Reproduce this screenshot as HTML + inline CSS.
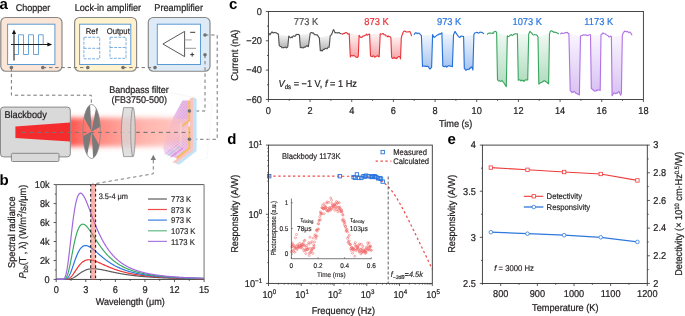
<!DOCTYPE html>
<html><head><meta charset="utf-8"><style>
html,body{margin:0;padding:0;background:#fff;overflow:hidden}
svg{display:block;will-change:transform}
text{font-family:"Liberation Sans", sans-serif;text-rendering:geometricPrecision}
</style></head><body>
<svg width="685" height="316" viewBox="0 0 685 316" font-family='"Liberation Sans", sans-serif'>
<rect width="685" height="316" fill="#fff"/>
<defs><filter id="blur4" x="-50%" y="-50%" width="200%" height="200%"><feGaussianBlur stdDeviation="4.5"/></filter><filter id="blur2" x="-50%" y="-50%" width="200%" height="200%"><feGaussianBlur stdDeviation="1.2"/></filter><filter id="blurG" x="-20%" y="-50%" width="140%" height="200%"><feGaussianBlur stdDeviation="2.6"/></filter><filter id="blur05" x="-20%" y="-20%" width="140%" height="140%"><feGaussianBlur stdDeviation="0.45"/></filter><linearGradient id="glowH" x1="0" x2="1" y1="0" y2="0"><stop offset="0" stop-color="#ff4040" stop-opacity="1"/><stop offset="0.06" stop-color="#ff4a40" stop-opacity="0.85"/><stop offset="0.15" stop-color="#ff4a40" stop-opacity="0.74"/><stop offset="0.33" stop-color="#ff5448" stop-opacity="0.62"/><stop offset="0.6" stop-color="#ff5a4a" stop-opacity="0.45"/><stop offset="0.84" stop-color="#ff5a4a" stop-opacity="0.3"/><stop offset="1" stop-color="#ff6a5a" stop-opacity="0"/></linearGradient><linearGradient id="hmaskg" x1="0" x2="1" y1="0" y2="0"><stop offset="0" stop-color="#fff" stop-opacity="0.25"/><stop offset="0.3" stop-color="#fff" stop-opacity="0.6"/><stop offset="0.7" stop-color="#fff" stop-opacity="0.95"/><stop offset="1" stop-color="#fff" stop-opacity="1"/></linearGradient><linearGradient id="hmaskv" x1="0" x2="0" y1="0" y2="1"><stop offset="0" stop-color="#000" stop-opacity="0"/><stop offset="0.3" stop-color="#000" stop-opacity="0"/><stop offset="0.5" stop-color="#000" stop-opacity="0.45"/><stop offset="0.7" stop-color="#000" stop-opacity="0"/><stop offset="1" stop-color="#000" stop-opacity="0"/></linearGradient><mask id="hmask"><rect x="160" y="95" width="30" height="70" fill="url(#hmaskg)"/><rect x="160" y="98" width="30" height="64" fill="url(#hmaskv)"/></mask><pattern id="hatch" width="2.2" height="2.2" patternUnits="userSpaceOnUse" patternTransform="rotate(45)"><rect width="2.2" height="2.2" fill="#f3c2d6"/><circle cx="1.1" cy="1.1" r="0.75" fill="#cf8ee4"/></pattern></defs>
<rect x="68" y="117.6" width="128" height="29" fill="url(#glowH)" filter="url(#blurG)"/>
<text x="-0.5" y="8.8" font-size="15" text-anchor="start" fill="#000" font-weight="bold" >a</text>
<text transform="translate(15.8,11.4) scale(1,1.08)" font-size="9" text-anchor="start" fill="#231f20" font-weight="normal"  stroke="#231f20" stroke-width="0.213">Chopper</text>
<text transform="translate(74.7,11.4) scale(1,1.08)" font-size="9.15" text-anchor="start" fill="#231f20" font-weight="normal"  stroke="#231f20" stroke-width="0.218">Lock-in amplifier</text>
<text transform="translate(154.3,11.4) scale(1,1.08)" font-size="9.15" text-anchor="start" fill="#231f20" font-weight="normal"  stroke="#231f20" stroke-width="0.218">Preamplifier</text>
<rect x="0.8" y="17.5" width="61.2" height="53.7" rx="5" fill="#FBE5D6" stroke="#858585" stroke-width="1.15"/>
<rect x="74.6" y="17.5" width="62" height="53.7" rx="5" fill="#FFF2CC" stroke="#858585" stroke-width="1.15"/>
<rect x="148.3" y="17.5" width="61.7" height="53.7" rx="5" fill="#DEEBF7" stroke="#858585" stroke-width="1.15"/>
<rect x="7.6" y="24.2" width="47.3" height="40.3" fill="#fff" stroke="#5B9BD5" stroke-width="1"/>
<rect x="79.6" y="24.2" width="51.2" height="40.3" fill="#fff" stroke="#5B9BD5" stroke-width="1"/>
<rect x="157.3" y="24.2" width="43.2" height="40.3" fill="#fff" stroke="#5B9BD5" stroke-width="1"/>
<polyline points="14.3,54.5 18.5,54.5 18.5,34.8 23.5,34.8 23.5,54.5 28.5,54.5 28.5,34.8 33.5,34.8 33.5,54.5 38.5,54.5 38.5,34.8 43.2,34.8 43.2,44" fill="none" stroke="#5B9BD5" stroke-width="0.9"/>
<line x1="14" y1="33" x2="14" y2="60.5" stroke="#222" stroke-width="1.1"/>
<polygon points="14,29.6 11.9,34 16.1,34" fill="#111"/>
<line x1="11" y1="44.5" x2="48" y2="44.5" stroke="#222" stroke-width="1.1"/>
<polygon points="52.2,44.5 47.4,42.4 47.4,46.6" fill="#111"/>
<text transform="translate(85.8,33.8) scale(1,1.08)" font-size="7.7" text-anchor="start" fill="#231f20" font-weight="normal"  stroke="#231f20" stroke-width="0.168">Ref</text>
<text transform="translate(106.7,33.8) scale(1,1.08)" font-size="7.7" text-anchor="start" fill="#231f20" font-weight="normal"  stroke="#231f20" stroke-width="0.168">Output</text>
<rect x="83.9" y="37.3" width="15.8" height="21.5" fill="none" stroke="#5B9BD5" stroke-width="0.8" stroke-dasharray="2.9 1.3"/>
<line x1="83.9" y1="48.3" x2="99.7" y2="48.3" stroke="#5B9BD5" stroke-width="0.8" stroke-dasharray="2.9 1.3"/>
<rect x="110" y="37.3" width="16" height="21" fill="none" stroke="#5B9BD5" stroke-width="0.8" stroke-dasharray="2.9 1.3"/>
<line x1="110" y1="47.5" x2="126" y2="47.5" stroke="#5B9BD5" stroke-width="0.8" stroke-dasharray="2.9 1.3"/>
<polygon points="162.9,44 184.6,31.4 184.6,56.6" fill="none" stroke="#444" stroke-width="0.9"/>
<line x1="184.6" y1="39.9" x2="191.7" y2="39.9" stroke="#aaa" stroke-width="1.1"/>
<line x1="184.6" y1="48.3" x2="196" y2="48.3" stroke="#999" stroke-width="1"/>
<line x1="190.2" y1="32.3" x2="195.2" y2="32.3" stroke="#222" stroke-width="0.9"/>
<line x1="190.2" y1="54.6" x2="194.2" y2="54.6" stroke="#222" stroke-width="0.9"/>
<line x1="192.2" y1="52.6" x2="192.2" y2="56.6" stroke="#222" stroke-width="0.9"/>
<polyline points="42.8,67.6 87.8,67.6" fill="none" stroke="#767676" stroke-width="1" stroke-dasharray="3.4 2.8"/>
<polyline points="123,67.6 155,67.6" fill="none" stroke="#767676" stroke-width="1" stroke-dasharray="3.4 2.8"/>
<polyline points="11.4,67.6 11.4,95.2 91.3,95.2 91.3,105" fill="none" stroke="#767676" stroke-width="1" stroke-dasharray="3.4 2.8"/>
<polyline points="205,35 217.2,35 217.2,139.3 189.4,139.3" fill="none" stroke="#767676" stroke-width="1" stroke-dasharray="3.4 2.8"/>
<polyline points="205,54.8 205,111 189.4,111" fill="none" stroke="#767676" stroke-width="1" stroke-dasharray="3.4 2.8"/>
<rect x="0.5" y="107.1" width="69.8" height="49.8" rx="3" fill="#D9D9D9" stroke="#7f7f7f" stroke-width="0.9"/>
<rect x="11.4" y="153.3" width="47.6" height="8.2" rx="1.2" fill="#D9D9D9" stroke="#7f7f7f" stroke-width="0.9"/>
<text transform="translate(4.4,118.3) scale(1,1.08)" font-size="9.2" text-anchor="start" fill="#231f20" font-weight="normal"  stroke="#231f20" stroke-width="0.22">Blackbody</text>
<polygon points="15.4,126.6 70,122.6 70,141.6 15.4,138" fill="#f42c2e"/>
<polygon points="91.6,131.5 100.27,126.81 100.1,124.51 99.87,122.27 99.58,120.09 99.22,118 98.81,116.01 98.34,114.14 97.82,112.41 97.26,110.82 96.65,109.38 96,108.12" fill="#7a7a7a"/>
<polygon points="91.6,131.5 90.07,104.91 89.32,105.42 88.59,106.13 87.88,107.03 87.2,108.12 86.55,109.38 85.94,110.82 85.38,112.41 84.86,114.14 84.39,116.01 83.98,118" fill="#7a7a7a"/>
<polygon points="91.6,131.5 82.93,136.19 83.1,138.49 83.33,140.73 83.62,142.91 83.98,145 84.39,146.99 84.86,148.86 85.38,150.59 85.94,152.18 86.55,153.62 87.2,154.88" fill="#7a7a7a"/>
<polygon points="91.6,131.5 93.13,158.09 93.88,157.58 94.61,156.87 95.32,155.97 96,154.88 96.65,153.62 97.26,152.18 97.82,150.59 98.34,148.86 98.81,146.99 99.22,145" fill="#7a7a7a"/>
<ellipse cx="91.6" cy="131.5" rx="8.8" ry="27.0" fill="none" stroke="#888" stroke-width="0.8"/>
<line x1="22" y1="132.4" x2="190" y2="132.4" stroke="#777" stroke-width="1" stroke-dasharray="3.8 3.8"/>
<path d="M123.6,107.6 L133,107.6 L133,156.6 L123.6,156.6 Q119,132.1 123.6,107.6 Z" fill="#d9d6d6" fill-opacity="0.78" stroke="#8a8a8a" stroke-width="0.8"/>
<ellipse cx="133" cy="132.1" rx="2.2" ry="24.5" fill="#dedada" fill-opacity="0.8" stroke="#8a8a8a" stroke-width="0.8"/>
<text transform="translate(138.9,92.9) scale(1,1.08)" font-size="9" text-anchor="middle" fill="#231f20" font-weight="normal"  stroke="#231f20" stroke-width="0.213">Bandpass filter</text>
<text transform="translate(139.3,103.4) scale(1,1.08)" font-size="9" text-anchor="middle" fill="#231f20" font-weight="normal"  stroke="#231f20" stroke-width="0.213">(FB3750-500)</text>
<polyline points="170.5,93 195,97.5" fill="none" stroke="#f0f0f0" stroke-width="0.6"/>
<polyline points="199,100 212,103 207,158 199,160" fill="none" stroke="#f3f3f3" stroke-width="0.6"/>
<polygon points="193.2,97.4 196.6,98.8 196.6,151 179.5,164.4 175.5,163.8 193.2,150" fill="#c2e3f6"/>
<polygon points="189.8,98.3 193.4,97.4 193.4,150.2 176,163.2 172.4,162.2 189.8,149" fill="#f8c4c4"/>
<g mask="url(#hmask)" filter="url(#blur05)"><polygon points="182.5,100.6 188.5,100.6 188.5,148 176.5,158 164.5,154 163,147.5 168,131 173.5,116.5" fill="url(#hatch)" opacity="0.85"/><polygon points="182.5,100.6 188.5,100.6 188.5,119 172.8,119" fill="#cf8fe6" opacity="0.25"/><polygon points="163.5,146 176.5,152 176.5,158 164.5,154" fill="#c987e8" opacity="0.4"/></g>
<rect x="150" y="119" width="38" height="22" fill="#ffb8b0" opacity="0.4" filter="url(#blur2)"/>
<polyline points="167.5,155.8 180,146.4" fill="none" stroke="#78d2cc" stroke-width="0.9" opacity="0.75" filter="url(#blur05)"/>
<polyline points="170.5,157.2 183,148" fill="none" stroke="#d77ae6" stroke-width="1.3" opacity="0.7" filter="url(#blur05)"/>
<polyline points="165.5,153.8 177.5,144.8" fill="none" stroke="#c98ae8" stroke-width="0.8" opacity="0.5" filter="url(#blur05)"/>
<line x1="180.8" y1="123" x2="180.8" y2="146" stroke="#f8ecd8" stroke-width="0.8" opacity="0.6"/>
<polyline points="189.2,100.5 189.2,120.5 182.5,126" fill="none" stroke="#f3b85a" stroke-width="2" opacity="0.9"/>
<polyline points="189.2,126.5 189.2,148.3 176.6,158.4" fill="none" stroke="#f3b85a" stroke-width="2" opacity="0.95"/>
<clipPath id="beamclip"><rect x="137" y="120" width="60" height="25"/></clipPath>
<line x1="22" y1="132.4" x2="190" y2="132.4" stroke="#777" stroke-width="1" stroke-dasharray="3.8 3.8" clip-path="url(#beamclip)"/>
<circle cx="11.4" cy="67.6" r="1.8" fill="#707070"/>
<circle cx="42.8" cy="67.6" r="1.8" fill="#707070"/>
<circle cx="87.8" cy="67.6" r="1.8" fill="#707070"/>
<circle cx="123" cy="67.6" r="1.8" fill="#707070"/>
<circle cx="155" cy="67.6" r="1.8" fill="#707070"/>
<circle cx="205" cy="35" r="1.8" fill="#707070"/>
<circle cx="205" cy="54.8" r="1.8" fill="#707070"/>
<circle cx="189.4" cy="111" r="1.8" fill="#707070"/>
<circle cx="189.4" cy="139.3" r="1.8" fill="#707070"/>
<polygon points="153.3,154.7 150.6,160 156,160" fill="#7a7a7a"/>
<polyline points="153.3,160 153.3,173.8 92,184.2" fill="none" stroke="#767676" stroke-width="0.95" stroke-dasharray="3.4 2.8"/>
<text x="-0.5" y="184.6" font-size="15" text-anchor="start" fill="#000" font-weight="bold" >b</text>
<line x1="56.2" y1="184.6" x2="204.1" y2="184.6" stroke="#444" stroke-width="0.9"/>
<line x1="56.2" y1="279.45" x2="204.1" y2="279.45" stroke="#333" stroke-width="0.9"/>
<line x1="56.2" y1="184.6" x2="56.2" y2="279.45" stroke="#777" stroke-width="1.2"/>
<line x1="204.1" y1="184.6" x2="204.1" y2="279.45" stroke="#999" stroke-width="1.4"/>
<polyline points="56.2,279.45 56.69,279.45 57.19,279.45 57.68,279.45 58.17,279.45 58.66,279.45 59.16,279.45 59.65,279.45 60.14,279.45 60.64,279.45 61.13,279.45 61.62,279.45 62.12,279.45 62.61,279.45 63.1,279.45 63.59,279.45 64.09,279.45 64.58,279.45 65.07,279.45 65.57,279.45 66.06,279.44 66.55,279.43 67.05,279.42 67.54,279.4 68.03,279.37 68.53,279.32 69.02,279.27 69.51,279.19 70,279.1 70.5,278.98 70.99,278.84 71.48,278.68 71.98,278.49 72.47,278.28 72.96,278.05 73.46,277.8 73.95,277.52 74.44,277.22 74.93,276.91 75.43,276.58 75.92,276.24 76.41,275.89 76.91,275.54 77.4,275.17 77.89,274.81 78.39,274.44 78.88,274.08 79.37,273.72 79.86,273.37 80.36,273.02 80.85,272.69 81.34,272.36 81.84,272.05 82.33,271.75 82.82,271.46 83.31,271.18 83.81,270.92 84.3,270.68 84.79,270.45 85.29,270.24 85.78,270.04 86.27,269.85 86.77,269.69 87.26,269.53 87.75,269.39 88.24,269.27 88.74,269.16 89.23,269.06 89.72,268.98 90.22,268.91 90.71,268.85 91.2,268.81 91.7,268.77 92.19,268.75 92.68,268.73 93.17,268.73 93.67,268.73 94.16,268.75 94.65,268.77 95.15,268.8 95.64,268.83 96.13,268.88 96.63,268.93 97.12,268.98 97.61,269.04 98.1,269.11 98.6,269.18 99.09,269.26 99.58,269.34 100.08,269.42 100.57,269.51 101.06,269.6 101.56,269.69 102.05,269.78 102.54,269.88 103.03,269.98 103.53,270.08 104.02,270.18 104.51,270.28 105.01,270.39 105.5,270.5 105.99,270.6 106.49,270.71 106.98,270.82 107.47,270.92 107.96,271.03 108.46,271.14 108.95,271.25 109.44,271.36 109.94,271.46 110.43,271.57 110.92,271.68 111.42,271.79 111.91,271.89 112.4,272 112.89,272.1 113.39,272.21 113.88,272.31 114.37,272.41 114.87,272.51 115.36,272.61 115.85,272.71 116.35,272.81 116.84,272.91 117.33,273 117.82,273.1 118.32,273.19 118.81,273.29 119.3,273.38 119.8,273.47 120.29,273.56 120.78,273.65 121.28,273.73 121.77,273.82 122.26,273.9 122.75,273.99 123.25,274.07 123.74,274.15 124.23,274.23 124.73,274.31 125.22,274.39 125.71,274.47 126.21,274.54 126.7,274.62 127.19,274.69 127.68,274.76 128.18,274.83 128.67,274.9 129.16,274.97 129.66,275.04 130.15,275.11 130.64,275.17 131.14,275.24 131.63,275.3 132.12,275.36 132.61,275.43 133.11,275.49 133.6,275.55 134.09,275.61 134.59,275.66 135.08,275.72 135.57,275.78 136.07,275.83 136.56,275.89 137.05,275.94 137.54,275.99 138.04,276.04 138.53,276.09 139.02,276.14 139.52,276.19 140.01,276.24 140.5,276.29 141,276.33 141.49,276.38 141.98,276.43 142.47,276.47 142.97,276.51 143.46,276.56 143.95,276.6 144.45,276.64 144.94,276.68 145.43,276.72 145.93,276.76 146.42,276.8 146.91,276.84 147.4,276.88 147.9,276.91 148.39,276.95 148.88,276.98 149.38,277.02 149.87,277.05 150.36,277.09 150.86,277.12 151.35,277.15 151.84,277.19 152.34,277.22 152.83,277.25 153.32,277.28 153.81,277.31 154.31,277.34 154.8,277.37 155.29,277.4 155.79,277.43 156.28,277.46 156.77,277.48 157.27,277.51 157.76,277.54 158.25,277.56 158.74,277.59 159.24,277.61 159.73,277.64 160.22,277.66 160.72,277.69 161.21,277.71 161.7,277.73 162.2,277.76 162.69,277.78 163.18,277.8 163.67,277.82 164.17,277.85 164.66,277.87 165.15,277.89 165.65,277.91 166.14,277.93 166.63,277.95 167.13,277.97 167.62,277.99 168.11,278.01 168.6,278.03 169.1,278.04 169.59,278.06 170.08,278.08 170.58,278.1 171.07,278.11 171.56,278.13 172.06,278.15 172.55,278.16 173.04,278.18 173.53,278.2 174.03,278.21 174.52,278.23 175.01,278.24 175.51,278.26 176,278.27 176.49,278.29 176.99,278.3 177.48,278.32 177.97,278.33 178.46,278.34 178.96,278.36 179.45,278.37 179.94,278.38 180.44,278.4 180.93,278.41 181.42,278.42 181.92,278.44 182.41,278.45 182.9,278.46 183.39,278.47 183.89,278.48 184.38,278.5 184.87,278.51 185.37,278.52 185.86,278.53 186.35,278.54 186.85,278.55 187.34,278.56 187.83,278.57 188.32,278.58 188.82,278.59 189.31,278.6 189.8,278.61 190.3,278.62 190.79,278.63 191.28,278.64 191.78,278.65 192.27,278.66 192.76,278.67 193.25,278.68 193.75,278.69 194.24,278.69 194.73,278.7 195.23,278.71 195.72,278.72 196.21,278.73 196.71,278.74 197.2,278.74 197.69,278.75 198.18,278.76 198.68,278.77 199.17,278.77 199.66,278.78 200.16,278.79 200.65,278.8 201.14,278.8 201.64,278.81 202.13,278.82 202.62,278.82 203.11,278.83 203.61,278.84 204.1,278.84" fill="none" stroke="#5a5a5a" stroke-width="1.2"/>
<polyline points="56.2,279.45 56.69,279.45 57.19,279.45 57.68,279.45 58.17,279.45 58.66,279.45 59.16,279.45 59.65,279.45 60.14,279.45 60.64,279.45 61.13,279.45 61.62,279.45 62.12,279.45 62.61,279.45 63.1,279.45 63.59,279.45 64.09,279.45 64.58,279.44 65.07,279.43 65.57,279.41 66.06,279.37 66.55,279.32 67.05,279.23 67.54,279.11 68.03,278.96 68.53,278.75 69.02,278.5 69.51,278.19 70,277.83 70.5,277.41 70.99,276.93 71.48,276.41 71.98,275.83 72.47,275.21 72.96,274.55 73.46,273.86 73.95,273.14 74.44,272.4 74.93,271.65 75.43,270.89 75.92,270.14 76.41,269.38 76.91,268.64 77.4,267.92 77.89,267.21 78.39,266.53 78.88,265.88 79.37,265.25 79.86,264.66 80.36,264.1 80.85,263.57 81.34,263.08 81.84,262.62 82.33,262.21 82.82,261.82 83.31,261.48 83.81,261.16 84.3,260.89 84.79,260.64 85.29,260.43 85.78,260.25 86.27,260.1 86.77,259.98 87.26,259.88 87.75,259.82 88.24,259.77 88.74,259.75 89.23,259.76 89.72,259.78 90.22,259.82 90.71,259.88 91.2,259.96 91.7,260.05 92.19,260.16 92.68,260.28 93.17,260.42 93.67,260.56 94.16,260.72 94.65,260.88 95.15,261.06 95.64,261.24 96.13,261.42 96.63,261.62 97.12,261.82 97.61,262.02 98.1,262.23 98.6,262.44 99.09,262.66 99.58,262.88 100.08,263.1 100.57,263.32 101.06,263.54 101.56,263.77 102.05,263.99 102.54,264.22 103.03,264.44 103.53,264.66 104.02,264.89 104.51,265.11 105.01,265.33 105.5,265.55 105.99,265.77 106.49,265.99 106.98,266.2 107.47,266.41 107.96,266.62 108.46,266.83 108.95,267.04 109.44,267.24 109.94,267.45 110.43,267.65 110.92,267.84 111.42,268.04 111.91,268.23 112.4,268.42 112.89,268.6 113.39,268.79 113.88,268.97 114.37,269.15 114.87,269.32 115.36,269.49 115.85,269.66 116.35,269.83 116.84,270 117.33,270.16 117.82,270.32 118.32,270.47 118.81,270.63 119.3,270.78 119.8,270.93 120.29,271.07 120.78,271.22 121.28,271.36 121.77,271.5 122.26,271.63 122.75,271.77 123.25,271.9 123.74,272.03 124.23,272.15 124.73,272.28 125.22,272.4 125.71,272.52 126.21,272.64 126.7,272.75 127.19,272.86 127.68,272.98 128.18,273.08 128.67,273.19 129.16,273.3 129.66,273.4 130.15,273.5 130.64,273.6 131.14,273.7 131.63,273.79 132.12,273.89 132.61,273.98 133.11,274.07 133.6,274.16 134.09,274.25 134.59,274.33 135.08,274.41 135.57,274.5 136.07,274.58 136.56,274.66 137.05,274.73 137.54,274.81 138.04,274.89 138.53,274.96 139.02,275.03 139.52,275.1 140.01,275.17 140.5,275.24 141,275.31 141.49,275.37 141.98,275.44 142.47,275.5 142.97,275.56 143.46,275.62 143.95,275.68 144.45,275.74 144.94,275.8 145.43,275.86 145.93,275.91 146.42,275.97 146.91,276.02 147.4,276.07 147.9,276.12 148.39,276.18 148.88,276.23 149.38,276.27 149.87,276.32 150.36,276.37 150.86,276.42 151.35,276.46 151.84,276.51 152.34,276.55 152.83,276.59 153.32,276.64 153.81,276.68 154.31,276.72 154.8,276.76 155.29,276.8 155.79,276.84 156.28,276.87 156.77,276.91 157.27,276.95 157.76,276.99 158.25,277.02 158.74,277.06 159.24,277.09 159.73,277.12 160.22,277.16 160.72,277.19 161.21,277.22 161.7,277.25 162.2,277.28 162.69,277.31 163.18,277.34 163.67,277.37 164.17,277.4 164.66,277.43 165.15,277.46 165.65,277.49 166.14,277.51 166.63,277.54 167.13,277.57 167.62,277.59 168.11,277.62 168.6,277.64 169.1,277.67 169.59,277.69 170.08,277.71 170.58,277.74 171.07,277.76 171.56,277.78 172.06,277.8 172.55,277.83 173.04,277.85 173.53,277.87 174.03,277.89 174.52,277.91 175.01,277.93 175.51,277.95 176,277.97 176.49,277.99 176.99,278.01 177.48,278.03 177.97,278.04 178.46,278.06 178.96,278.08 179.45,278.1 179.94,278.12 180.44,278.13 180.93,278.15 181.42,278.16 181.92,278.18 182.41,278.2 182.9,278.21 183.39,278.23 183.89,278.24 184.38,278.26 184.87,278.27 185.37,278.29 185.86,278.3 186.35,278.32 186.85,278.33 187.34,278.34 187.83,278.36 188.32,278.37 188.82,278.38 189.31,278.4 189.8,278.41 190.3,278.42 190.79,278.43 191.28,278.45 191.78,278.46 192.27,278.47 192.76,278.48 193.25,278.49 193.75,278.5 194.24,278.51 194.73,278.53 195.23,278.54 195.72,278.55 196.21,278.56 196.71,278.57 197.2,278.58 197.69,278.59 198.18,278.6 198.68,278.61 199.17,278.62 199.66,278.63 200.16,278.64 200.65,278.65 201.14,278.65 201.64,278.66 202.13,278.67 202.62,278.68 203.11,278.69 203.61,278.7 204.1,278.71" fill="none" stroke="#ee3535" stroke-width="1.2"/>
<polyline points="56.2,279.45 56.69,279.45 57.19,279.45 57.68,279.45 58.17,279.45 58.66,279.45 59.16,279.45 59.65,279.45 60.14,279.45 60.64,279.45 61.13,279.45 61.62,279.45 62.12,279.45 62.61,279.45 63.1,279.45 63.59,279.44 64.09,279.42 64.58,279.38 65.07,279.31 65.57,279.2 66.06,279.02 66.55,278.77 67.05,278.43 67.54,277.99 68.03,277.43 68.53,276.75 69.02,275.96 69.51,275.04 70,274.01 70.5,272.89 70.99,271.67 71.48,270.37 71.98,269.01 72.47,267.61 72.96,266.17 73.46,264.72 73.95,263.27 74.44,261.83 74.93,260.42 75.43,259.05 75.92,257.72 76.41,256.44 76.91,255.23 77.4,254.08 77.89,253.01 78.39,252 78.88,251.08 79.37,250.23 79.86,249.46 80.36,248.76 80.85,248.14 81.34,247.59 81.84,247.12 82.33,246.72 82.82,246.38 83.31,246.1 83.81,245.89 84.3,245.73 84.79,245.63 85.29,245.58 85.78,245.58 86.27,245.62 86.77,245.7 87.26,245.82 87.75,245.98 88.24,246.17 88.74,246.39 89.23,246.64 89.72,246.91 90.22,247.21 90.71,247.52 91.2,247.85 91.7,248.2 92.19,248.57 92.68,248.95 93.17,249.33 93.67,249.73 94.16,250.14 94.65,250.55 95.15,250.97 95.64,251.39 96.13,251.82 96.63,252.24 97.12,252.67 97.61,253.1 98.1,253.53 98.6,253.96 99.09,254.39 99.58,254.82 100.08,255.24 100.57,255.66 101.06,256.08 101.56,256.49 102.05,256.9 102.54,257.31 103.03,257.71 103.53,258.11 104.02,258.5 104.51,258.88 105.01,259.26 105.5,259.64 105.99,260.01 106.49,260.37 106.98,260.73 107.47,261.08 107.96,261.43 108.46,261.77 108.95,262.11 109.44,262.44 109.94,262.76 110.43,263.08 110.92,263.39 111.42,263.7 111.91,264 112.4,264.29 112.89,264.58 113.39,264.86 113.88,265.14 114.37,265.42 114.87,265.68 115.36,265.95 115.85,266.2 116.35,266.45 116.84,266.7 117.33,266.94 117.82,267.18 118.32,267.41 118.81,267.64 119.3,267.86 119.8,268.08 120.29,268.29 120.78,268.5 121.28,268.71 121.77,268.91 122.26,269.11 122.75,269.3 123.25,269.49 123.74,269.67 124.23,269.85 124.73,270.03 125.22,270.2 125.71,270.37 126.21,270.54 126.7,270.7 127.19,270.86 127.68,271.02 128.18,271.17 128.67,271.32 129.16,271.47 129.66,271.61 130.15,271.75 130.64,271.89 131.14,272.02 131.63,272.15 132.12,272.28 132.61,272.41 133.11,272.53 133.6,272.66 134.09,272.77 134.59,272.89 135.08,273.01 135.57,273.12 136.07,273.23 136.56,273.33 137.05,273.44 137.54,273.54 138.04,273.64 138.53,273.74 139.02,273.84 139.52,273.93 140.01,274.03 140.5,274.12 141,274.21 141.49,274.3 141.98,274.38 142.47,274.47 142.97,274.55 143.46,274.63 143.95,274.71 144.45,274.79 144.94,274.86 145.43,274.94 145.93,275.01 146.42,275.08 146.91,275.15 147.4,275.22 147.9,275.29 148.39,275.36 148.88,275.42 149.38,275.49 149.87,275.55 150.36,275.61 150.86,275.67 151.35,275.73 151.84,275.79 152.34,275.85 152.83,275.9 153.32,275.96 153.81,276.01 154.31,276.06 154.8,276.11 155.29,276.17 155.79,276.22 156.28,276.26 156.77,276.31 157.27,276.36 157.76,276.41 158.25,276.45 158.74,276.5 159.24,276.54 159.73,276.58 160.22,276.63 160.72,276.67 161.21,276.71 161.7,276.75 162.2,276.79 162.69,276.83 163.18,276.87 163.67,276.9 164.17,276.94 164.66,276.98 165.15,277.01 165.65,277.05 166.14,277.08 166.63,277.11 167.13,277.15 167.62,277.18 168.11,277.21 168.6,277.24 169.1,277.27 169.59,277.3 170.08,277.33 170.58,277.36 171.07,277.39 171.56,277.42 172.06,277.45 172.55,277.48 173.04,277.5 173.53,277.53 174.03,277.56 174.52,277.58 175.01,277.61 175.51,277.63 176,277.66 176.49,277.68 176.99,277.7 177.48,277.73 177.97,277.75 178.46,277.77 178.96,277.79 179.45,277.81 179.94,277.84 180.44,277.86 180.93,277.88 181.42,277.9 181.92,277.92 182.41,277.94 182.9,277.96 183.39,277.98 183.89,278 184.38,278.01 184.87,278.03 185.37,278.05 185.86,278.07 186.35,278.09 186.85,278.1 187.34,278.12 187.83,278.14 188.32,278.15 188.82,278.17 189.31,278.18 189.8,278.2 190.3,278.22 190.79,278.23 191.28,278.25 191.78,278.26 192.27,278.27 192.76,278.29 193.25,278.3 193.75,278.32 194.24,278.33 194.73,278.34 195.23,278.36 195.72,278.37 196.21,278.38 196.71,278.4 197.2,278.41 197.69,278.42 198.18,278.43 198.68,278.44 199.17,278.46 199.66,278.47 200.16,278.48 200.65,278.49 201.14,278.5 201.64,278.51 202.13,278.52 202.62,278.53 203.11,278.54 203.61,278.55 204.1,278.56" fill="none" stroke="#2a76e0" stroke-width="1.2"/>
<polyline points="56.2,279.45 56.69,279.45 57.19,279.45 57.68,279.45 58.17,279.45 58.66,279.45 59.16,279.45 59.65,279.45 60.14,279.45 60.64,279.45 61.13,279.45 61.62,279.45 62.12,279.45 62.61,279.44 63.1,279.42 63.59,279.37 64.09,279.27 64.58,279.09 65.07,278.8 65.57,278.37 66.06,277.75 66.55,276.93 67.05,275.89 67.54,274.6 68.03,273.08 68.53,271.33 69.02,269.36 69.51,267.21 70,264.9 70.5,262.47 70.99,259.94 71.48,257.35 71.98,254.74 72.47,252.14 72.96,249.57 73.46,247.07 73.95,244.65 74.44,242.33 74.93,240.13 75.43,238.06 75.92,236.14 76.41,234.35 76.91,232.73 77.4,231.25 77.89,229.93 78.39,228.75 78.88,227.73 79.37,226.85 79.86,226.1 80.36,225.49 80.85,225.01 81.34,224.64 81.84,224.39 82.33,224.24 82.82,224.2 83.31,224.24 83.81,224.37 84.3,224.57 84.79,224.85 85.29,225.19 85.78,225.6 86.27,226.05 86.77,226.55 87.26,227.1 87.75,227.69 88.24,228.31 88.74,228.95 89.23,229.63 89.72,230.33 90.22,231.04 90.71,231.77 91.2,232.52 91.7,233.27 92.19,234.03 92.68,234.8 93.17,235.57 93.67,236.35 94.16,237.12 94.65,237.89 95.15,238.66 95.64,239.43 96.13,240.19 96.63,240.94 97.12,241.69 97.61,242.43 98.1,243.17 98.6,243.89 99.09,244.6 99.58,245.31 100.08,246 100.57,246.68 101.06,247.35 101.56,248.01 102.05,248.66 102.54,249.3 103.03,249.93 103.53,250.54 104.02,251.15 104.51,251.74 105.01,252.32 105.5,252.89 105.99,253.45 106.49,253.99 106.98,254.53 107.47,255.05 107.96,255.57 108.46,256.07 108.95,256.56 109.44,257.04 109.94,257.51 110.43,257.97 110.92,258.42 111.42,258.86 111.91,259.29 112.4,259.71 112.89,260.12 113.39,260.52 113.88,260.91 114.37,261.3 114.87,261.67 115.36,262.04 115.85,262.4 116.35,262.75 116.84,263.09 117.33,263.42 117.82,263.75 118.32,264.07 118.81,264.38 119.3,264.69 119.8,264.98 120.29,265.28 120.78,265.56 121.28,265.84 121.77,266.11 122.26,266.37 122.75,266.63 123.25,266.89 123.74,267.13 124.23,267.38 124.73,267.61 125.22,267.84 125.71,268.07 126.21,268.29 126.7,268.5 127.19,268.72 127.68,268.92 128.18,269.12 128.67,269.32 129.16,269.51 129.66,269.7 130.15,269.88 130.64,270.06 131.14,270.24 131.63,270.41 132.12,270.58 132.61,270.74 133.11,270.91 133.6,271.06 134.09,271.22 134.59,271.37 135.08,271.51 135.57,271.66 136.07,271.8 136.56,271.94 137.05,272.07 137.54,272.21 138.04,272.33 138.53,272.46 139.02,272.58 139.52,272.71 140.01,272.82 140.5,272.94 141,273.05 141.49,273.17 141.98,273.27 142.47,273.38 142.97,273.49 143.46,273.59 143.95,273.69 144.45,273.79 144.94,273.88 145.43,273.98 145.93,274.07 146.42,274.16 146.91,274.25 147.4,274.34 147.9,274.42 148.39,274.5 148.88,274.58 149.38,274.66 149.87,274.74 150.36,274.82 150.86,274.9 151.35,274.97 151.84,275.04 152.34,275.11 152.83,275.18 153.32,275.25 153.81,275.32 154.31,275.38 154.8,275.45 155.29,275.51 155.79,275.57 156.28,275.63 156.77,275.69 157.27,275.75 157.76,275.81 158.25,275.86 158.74,275.92 159.24,275.97 159.73,276.03 160.22,276.08 160.72,276.13 161.21,276.18 161.7,276.23 162.2,276.28 162.69,276.33 163.18,276.37 163.67,276.42 164.17,276.46 164.66,276.51 165.15,276.55 165.65,276.59 166.14,276.64 166.63,276.68 167.13,276.72 167.62,276.76 168.11,276.79 168.6,276.83 169.1,276.87 169.59,276.91 170.08,276.94 170.58,276.98 171.07,277.01 171.56,277.05 172.06,277.08 172.55,277.12 173.04,277.15 173.53,277.18 174.03,277.21 174.52,277.24 175.01,277.27 175.51,277.3 176,277.33 176.49,277.36 176.99,277.39 177.48,277.42 177.97,277.45 178.46,277.47 178.96,277.5 179.45,277.53 179.94,277.55 180.44,277.58 180.93,277.6 181.42,277.63 181.92,277.65 182.41,277.67 182.9,277.7 183.39,277.72 183.89,277.74 184.38,277.76 184.87,277.79 185.37,277.81 185.86,277.83 186.35,277.85 186.85,277.87 187.34,277.89 187.83,277.91 188.32,277.93 188.82,277.95 189.31,277.97 189.8,277.99 190.3,278 190.79,278.02 191.28,278.04 191.78,278.06 192.27,278.08 192.76,278.09 193.25,278.11 193.75,278.13 194.24,278.14 194.73,278.16 195.23,278.17 195.72,278.19 196.21,278.2 196.71,278.22 197.2,278.23 197.69,278.25 198.18,278.26 198.68,278.28 199.17,278.29 199.66,278.31 200.16,278.32 200.65,278.33 201.14,278.35 201.64,278.36 202.13,278.37 202.62,278.38 203.11,278.4 203.61,278.41 204.1,278.42" fill="none" stroke="#3aaa62" stroke-width="1.2"/>
<polyline points="56.2,279.45 56.69,279.45 57.19,279.45 57.68,279.45 58.17,279.45 58.66,279.45 59.16,279.45 59.65,279.45 60.14,279.45 60.64,279.45 61.13,279.45 61.62,279.45 62.12,279.43 62.61,279.39 63.1,279.28 63.59,279.07 64.09,278.69 64.58,278.07 65.07,277.14 65.57,275.84 66.06,274.13 66.55,271.97 67.05,269.37 67.54,266.35 68.03,262.93 68.53,259.18 69.02,255.15 69.51,250.91 70,246.53 70.5,242.09 70.99,237.64 71.48,233.24 71.98,228.96 72.47,224.83 72.96,220.9 73.46,217.19 73.95,213.74 74.44,210.55 74.93,207.64 75.43,205.01 75.92,202.67 76.41,200.61 76.91,198.82 77.4,197.31 77.89,196.05 78.39,195.04 78.88,194.27 79.37,193.71 79.86,193.36 80.36,193.2 80.85,193.21 81.34,193.39 81.84,193.71 82.33,194.17 82.82,194.76 83.31,195.45 83.81,196.24 84.3,197.12 84.79,198.08 85.29,199.11 85.78,200.19 86.27,201.33 86.77,202.51 87.26,203.72 87.75,204.97 88.24,206.24 88.74,207.53 89.23,208.83 89.72,210.15 90.22,211.47 90.71,212.79 91.2,214.11 91.7,215.42 92.19,216.73 92.68,218.03 93.17,219.32 93.67,220.6 94.16,221.86 94.65,223.1 95.15,224.33 95.64,225.54 96.13,226.74 96.63,227.91 97.12,229.06 97.61,230.19 98.1,231.31 98.6,232.4 99.09,233.46 99.58,234.51 100.08,235.54 100.57,236.54 101.06,237.52 101.56,238.48 102.05,239.42 102.54,240.34 103.03,241.24 103.53,242.12 104.02,242.97 104.51,243.81 105.01,244.63 105.5,245.43 105.99,246.2 106.49,246.96 106.98,247.71 107.47,248.43 107.96,249.13 108.46,249.82 108.95,250.49 109.44,251.15 109.94,251.79 110.43,252.41 110.92,253.02 111.42,253.61 111.91,254.19 112.4,254.75 112.89,255.3 113.39,255.83 113.88,256.35 114.37,256.86 114.87,257.36 115.36,257.84 115.85,258.31 116.35,258.77 116.84,259.22 117.33,259.66 117.82,260.09 118.32,260.5 118.81,260.91 119.3,261.3 119.8,261.69 120.29,262.06 120.78,262.43 121.28,262.79 121.77,263.14 122.26,263.48 122.75,263.81 123.25,264.13 123.74,264.45 124.23,264.76 124.73,265.06 125.22,265.35 125.71,265.64 126.21,265.92 126.7,266.19 127.19,266.46 127.68,266.72 128.18,266.97 128.67,267.22 129.16,267.46 129.66,267.7 130.15,267.93 130.64,268.15 131.14,268.37 131.63,268.59 132.12,268.8 132.61,269 133.11,269.2 133.6,269.4 134.09,269.59 134.59,269.78 135.08,269.96 135.57,270.14 136.07,270.31 136.56,270.48 137.05,270.65 137.54,270.81 138.04,270.97 138.53,271.13 139.02,271.28 139.52,271.43 140.01,271.58 140.5,271.72 141,271.86 141.49,271.99 141.98,272.13 142.47,272.26 142.97,272.39 143.46,272.51 143.95,272.63 144.45,272.75 144.94,272.87 145.43,272.98 145.93,273.1 146.42,273.21 146.91,273.31 147.4,273.42 147.9,273.52 148.39,273.62 148.88,273.72 149.38,273.82 149.87,273.91 150.36,274.01 150.86,274.1 151.35,274.19 151.84,274.27 152.34,274.36 152.83,274.44 153.32,274.52 153.81,274.61 154.31,274.68 154.8,274.76 155.29,274.84 155.79,274.91 156.28,274.98 156.77,275.06 157.27,275.13 157.76,275.19 158.25,275.26 158.74,275.33 159.24,275.39 159.73,275.46 160.22,275.52 160.72,275.58 161.21,275.64 161.7,275.7 162.2,275.76 162.69,275.81 163.18,275.87 163.67,275.92 164.17,275.98 164.66,276.03 165.15,276.08 165.65,276.13 166.14,276.18 166.63,276.23 167.13,276.28 167.62,276.32 168.11,276.37 168.6,276.41 169.1,276.46 169.59,276.5 170.08,276.55 170.58,276.59 171.07,276.63 171.56,276.67 172.06,276.71 172.55,276.75 173.04,276.79 173.53,276.82 174.03,276.86 174.52,276.9 175.01,276.93 175.51,276.97 176,277 176.49,277.04 176.99,277.07 177.48,277.1 177.97,277.14 178.46,277.17 178.96,277.2 179.45,277.23 179.94,277.26 180.44,277.29 180.93,277.32 181.42,277.35 181.92,277.38 182.41,277.4 182.9,277.43 183.39,277.46 183.89,277.48 184.38,277.51 184.87,277.54 185.37,277.56 185.86,277.59 186.35,277.61 186.85,277.63 187.34,277.66 187.83,277.68 188.32,277.7 188.82,277.73 189.31,277.75 189.8,277.77 190.3,277.79 190.79,277.81 191.28,277.83 191.78,277.85 192.27,277.87 192.76,277.89 193.25,277.91 193.75,277.93 194.24,277.95 194.73,277.97 195.23,277.99 195.72,278.01 196.21,278.02 196.71,278.04 197.2,278.06 197.69,278.08 198.18,278.09 198.68,278.11 199.17,278.12 199.66,278.14 200.16,278.16 200.65,278.17 201.14,278.19 201.64,278.2 202.13,278.22 202.62,278.23 203.11,278.25 203.61,278.26 204.1,278.27" fill="none" stroke="#a466e0" stroke-width="1.2"/>
<rect x="90.71" y="184.6" width="4.93" height="94.85" fill="#f3685a" fill-opacity="0.5"/>
<line x1="90.71" y1="184.6" x2="90.71" y2="279.45" stroke="#111" stroke-width="1" stroke-dasharray="2.7 2.4" stroke-dashoffset="0.9"/>
<line x1="95.64" y1="184.6" x2="95.64" y2="279.45" stroke="#111" stroke-width="1" stroke-dasharray="2.7 2.4" stroke-dashoffset="0.9"/>
<line x1="53.6" y1="279.45" x2="56.2" y2="279.45" stroke="#333" stroke-width="0.8"/>
<text transform="translate(49.6,282.75) scale(1,1.08)" font-size="9.2" text-anchor="end" fill="#231f20" font-weight="normal"  stroke="#231f20" stroke-width="0.22">0</text>
<line x1="54.8" y1="269.96" x2="56.2" y2="269.96" stroke="#333" stroke-width="0.8"/>
<line x1="53.6" y1="260.48" x2="56.2" y2="260.48" stroke="#333" stroke-width="0.8"/>
<text transform="translate(49.6,263.78) scale(1,1.08)" font-size="9.2" text-anchor="end" fill="#231f20" font-weight="normal"  stroke="#231f20" stroke-width="0.22">2k</text>
<line x1="54.8" y1="251" x2="56.2" y2="251" stroke="#333" stroke-width="0.8"/>
<line x1="53.6" y1="241.51" x2="56.2" y2="241.51" stroke="#333" stroke-width="0.8"/>
<text transform="translate(49.6,244.81) scale(1,1.08)" font-size="9.2" text-anchor="end" fill="#231f20" font-weight="normal"  stroke="#231f20" stroke-width="0.22">4k</text>
<line x1="54.8" y1="232.02" x2="56.2" y2="232.02" stroke="#333" stroke-width="0.8"/>
<line x1="53.6" y1="222.54" x2="56.2" y2="222.54" stroke="#333" stroke-width="0.8"/>
<text transform="translate(49.6,225.84) scale(1,1.08)" font-size="9.2" text-anchor="end" fill="#231f20" font-weight="normal"  stroke="#231f20" stroke-width="0.22">6k</text>
<line x1="54.8" y1="213.06" x2="56.2" y2="213.06" stroke="#333" stroke-width="0.8"/>
<line x1="53.6" y1="203.57" x2="56.2" y2="203.57" stroke="#333" stroke-width="0.8"/>
<text transform="translate(49.6,206.87) scale(1,1.08)" font-size="9.2" text-anchor="end" fill="#231f20" font-weight="normal"  stroke="#231f20" stroke-width="0.22">8k</text>
<line x1="54.8" y1="194.08" x2="56.2" y2="194.08" stroke="#333" stroke-width="0.8"/>
<line x1="53.6" y1="184.6" x2="56.2" y2="184.6" stroke="#333" stroke-width="0.8"/>
<text transform="translate(49.6,187.9) scale(1,1.08)" font-size="9.2" text-anchor="end" fill="#231f20" font-weight="normal"  stroke="#231f20" stroke-width="0.22">10k</text>
<line x1="56.2" y1="279.45" x2="56.2" y2="282.05" stroke="#333" stroke-width="0.8"/>
<text transform="translate(56.2,292.9) scale(1,1.08)" font-size="9.2" text-anchor="middle" fill="#231f20" font-weight="normal"  stroke="#231f20" stroke-width="0.22">0</text>
<line x1="70.99" y1="279.45" x2="70.99" y2="280.85" stroke="#333" stroke-width="0.8"/>
<line x1="85.78" y1="279.45" x2="85.78" y2="282.05" stroke="#333" stroke-width="0.8"/>
<text transform="translate(85.78,292.9) scale(1,1.08)" font-size="9.2" text-anchor="middle" fill="#231f20" font-weight="normal"  stroke="#231f20" stroke-width="0.22">3</text>
<line x1="100.57" y1="279.45" x2="100.57" y2="280.85" stroke="#333" stroke-width="0.8"/>
<line x1="115.36" y1="279.45" x2="115.36" y2="282.05" stroke="#333" stroke-width="0.8"/>
<text transform="translate(115.36,292.9) scale(1,1.08)" font-size="9.2" text-anchor="middle" fill="#231f20" font-weight="normal"  stroke="#231f20" stroke-width="0.22">6</text>
<line x1="130.15" y1="279.45" x2="130.15" y2="280.85" stroke="#333" stroke-width="0.8"/>
<line x1="144.94" y1="279.45" x2="144.94" y2="282.05" stroke="#333" stroke-width="0.8"/>
<text transform="translate(144.94,292.9) scale(1,1.08)" font-size="9.2" text-anchor="middle" fill="#231f20" font-weight="normal"  stroke="#231f20" stroke-width="0.22">9</text>
<line x1="159.73" y1="279.45" x2="159.73" y2="280.85" stroke="#333" stroke-width="0.8"/>
<line x1="174.52" y1="279.45" x2="174.52" y2="282.05" stroke="#333" stroke-width="0.8"/>
<text transform="translate(174.52,292.9) scale(1,1.08)" font-size="9.2" text-anchor="middle" fill="#231f20" font-weight="normal"  stroke="#231f20" stroke-width="0.22">12</text>
<line x1="189.31" y1="279.45" x2="189.31" y2="280.85" stroke="#333" stroke-width="0.8"/>
<line x1="204.1" y1="279.45" x2="204.1" y2="282.05" stroke="#333" stroke-width="0.8"/>
<text transform="translate(204.1,292.9) scale(1,1.08)" font-size="9.2" text-anchor="middle" fill="#231f20" font-weight="normal"  stroke="#231f20" stroke-width="0.22">15</text>
<text transform="translate(130.2,305.4) scale(1,1.08)" font-size="9.1" text-anchor="middle" fill="#231f20" font-weight="normal"  stroke="#231f20" stroke-width="0.216">Wavelength (&#956;m)</text>
<text transform="translate(15.0,232.2) rotate(-90) scale(1,1.08)" font-size="9.2" text-anchor="middle" fill="#231f20" stroke="#231f20" stroke-width="0.22">Spectral radiance</text>
<text transform="translate(26.1,231.6) rotate(-90) scale(1,1.08)" font-size="9.2" text-anchor="middle" fill="#231f20" stroke="#231f20" stroke-width="0.22"><tspan font-style="italic">P</tspan><tspan font-size="6.4" dy="2.2">bb</tspan><tspan dy="-2.2">(T , &#955;) (W/m</tspan><tspan font-size="6.4" dy="-3.4">2</tspan><tspan dy="3.4">/sr/&#956;m)</tspan></text>
<text transform="translate(98.7,198.8) scale(1,1.08)" font-size="7.4" text-anchor="start" fill="#231f20" font-weight="normal"  stroke="#231f20" stroke-width="0.159">3.5-4 &#956;m</text>
<line x1="148" y1="199.0" x2="166.9" y2="199.0" stroke="#858585" stroke-width="1.6"/>
<text transform="translate(171.1,202.1) scale(1,1.08)" font-size="7.7" text-anchor="start" fill="#231f20" font-weight="normal"  stroke="#231f20" stroke-width="0.168">773 K</text>
<line x1="148" y1="209.5" x2="166.9" y2="209.5" stroke="#f04a4a" stroke-width="1.2"/>
<text transform="translate(171.1,212.6) scale(1,1.08)" font-size="7.7" text-anchor="start" fill="#231f20" font-weight="normal"  stroke="#231f20" stroke-width="0.168">873 K</text>
<line x1="148" y1="220.1" x2="166.9" y2="220.1" stroke="#3a80e6" stroke-width="1.2"/>
<text transform="translate(171.1,223.2) scale(1,1.08)" font-size="7.7" text-anchor="start" fill="#231f20" font-weight="normal"  stroke="#231f20" stroke-width="0.168">973 K</text>
<line x1="148" y1="230.8" x2="166.9" y2="230.8" stroke="#62bb84" stroke-width="1.2"/>
<text transform="translate(171.1,233.9) scale(1,1.08)" font-size="7.7" text-anchor="start" fill="#231f20" font-weight="normal"  stroke="#231f20" stroke-width="0.168">1073 K</text>
<line x1="148" y1="241.4" x2="166.9" y2="241.4" stroke="#a87ae2" stroke-width="1.2"/>
<text transform="translate(171.1,244.5) scale(1,1.08)" font-size="7.7" text-anchor="start" fill="#231f20" font-weight="normal"  stroke="#231f20" stroke-width="0.168">1173 K</text>
<text x="229" y="8.6" font-size="15" text-anchor="start" fill="#000" font-weight="bold" >c</text>
<defs>
<linearGradient id="gc0" x1="0" x2="0" y1="0" y2="1"><stop offset="0" stop-color="#f7f7f7"/><stop offset="1" stop-color="#b3b3b3"/></linearGradient>
<linearGradient id="gc1" x1="0" x2="0" y1="0" y2="1"><stop offset="0" stop-color="#fff3f3"/><stop offset="1" stop-color="#f5a3a6"/></linearGradient>
<linearGradient id="gc2" x1="0" x2="0" y1="0" y2="1"><stop offset="0" stop-color="#f0f6fe"/><stop offset="1" stop-color="#a6c4f0"/></linearGradient>
<linearGradient id="gc3" x1="0" x2="0" y1="0" y2="1"><stop offset="0" stop-color="#f1f9f4"/><stop offset="1" stop-color="#b0dcbf"/></linearGradient>
<linearGradient id="gc4" x1="0" x2="0" y1="0" y2="1"><stop offset="0" stop-color="#faf5fe"/><stop offset="1" stop-color="#d9c1f3"/></linearGradient>
</defs>
<polygon points="278.4,34.5 279.2,45.35 280,46.23 280.62,46.51 281.23,46.59 281.85,47.8 282.47,47.73 283.08,47.55 283.7,47.87 284.36,47.51 285.02,47.31 285.68,47.16 286.34,47.98 287,47.57 287.8,46.61 288.8,35.9" fill="url(#gc0)"/>
<polygon points="299.4,34.9 300.3,47.39 301,47.67 301.67,47.3 302.33,47.74 303,48.01 303.67,47.52 304.33,47 305,47.14 305.67,46.88 306.33,45.99 307,45.6 307.7,46.46 308.4,46.58 310.2,33.1" fill="url(#gc0)"/>
<polygon points="319.3,37.5 320.3,50.68 320.98,50.37 321.65,50.61 322.32,50.98 323,49.9 323.67,49.35 324.33,49.48 325,48.49 325.6,48.35 326.2,48.78 326.8,48.8 327.4,48.51 328,47.25 329.2,47.16 330.2,35.3" fill="url(#gc0)"/>
<polyline points="268.3,33.33 269.15,33.68 270,34.87 270.67,33.35 271.33,33.07 272,31.77 272.6,32.6 273.2,32.63 273.8,33.04 274.4,32.44 275,32.4 275.73,32.7 276.45,32.9 277.17,33.6 277.9,33.64 278.4,34.33 279.2,45.35 280,46.23 280.62,46.51 281.23,46.59 281.85,47.8 282.47,47.73 283.08,47.55 283.7,47.87 284.36,47.51 285.02,47.31 285.68,47.16 286.34,47.98 287,47.57 287.8,46.61 288.8,36.17 289.53,36.72 290.27,37.74 291,37.58 291.67,36.85 292.33,37.56 293,36.27 293.67,35.87 294.33,35.94 295,36.51 295.62,35.53 296.23,34.33 296.85,34.83 297.47,34.57 298.08,34.41 298.7,34.6 299.4,34.9 300.3,47.39 301,47.67 301.67,47.3 302.33,47.74 303,48.01 303.67,47.52 304.33,47 305,47.14 305.67,46.88 306.33,45.99 307,45.6 307.7,46.46 308.4,46.58 310.2,33.2 310.85,32.67 311.5,32.44 312.17,32.83 312.83,33.24 313.5,32.88 314.17,34.34 314.83,34.72 315.5,34.68 316.25,34.92 317,34.67 317.77,35.59 318.53,36.97 319.3,37.65 320.3,50.68 320.98,50.37 321.65,50.61 322.32,50.98 323,49.9 323.67,49.35 324.33,49.48 325,48.49 325.6,48.35 326.2,48.78 326.8,48.8 327.4,48.51 328,47.25 329.2,47.16 330.2,35.99 330.85,35.25 331.5,34.64 332.13,33.35 332.77,31.22 333.4,29.61 334.2,30.58 335,32.86 335.67,32.58 336.33,32.73 337,32.89 337.67,32.91 338.33,32.76 339,32.45 339.75,33.18 340.5,33.44 341.2,33.8" fill="none" stroke="#505050" stroke-width="1.12" stroke-linejoin="round"/>
<text transform="translate(306,25) scale(1,1.08)" font-size="9.3" text-anchor="middle" fill="#555555" font-weight="normal"  stroke="#555555" stroke-width="0.22">773 K</text>
<polygon points="349.2,33.4 350.3,57.02 351,55.55 351.6,55.77 352.2,55.77 352.8,55.99 353.4,55.42 354,55.76 354.67,55.78 355.33,56.67 356,57.12 356.77,57.26 357.53,57.38 358.3,56.47 359.1,34.9" fill="url(#gc1)"/>
<polygon points="369.6,34.2 370.5,56.08 371,56.31 371.67,56.53 372.33,56.72 373,55.94 373.67,55.91 374.33,56.95 375,57.15 375.7,56.43 376.4,56.26 377.1,55.92 377.8,55.88 378.5,56.72 379.2,56.69 380.2,33.8" fill="url(#gc1)"/>
<polygon points="390.9,38 391.6,57.12 392.3,58.24 393,58.46 393.6,57.61 394.2,57.39 394.8,58.28 395.4,58.52 396,57.73 396.67,58.6 397.33,57.84 398,57 398.63,56.58 399.27,56.56 399.9,56.6 400.5,58.94 401.3,36.8" fill="url(#gc1)"/>
<polyline points="341.2,33.77 341.83,33.79 342.47,34.17 343.1,33.82 343.73,33.41 344.37,33.56 345,32.84 345.7,32.68 346.4,32.6 347.1,33.07 347.8,34.06 348.5,34.07 349.2,33.6 350.3,57.02 351,55.55 351.6,55.77 352.2,55.77 352.8,55.99 353.4,55.42 354,55.76 354.67,55.78 355.33,56.67 356,57.12 356.77,57.26 357.53,57.38 358.3,56.47 359.1,35.28 359.73,36.16 360.37,37.3 361,37.42 361.6,37.47 362.2,36.96 362.8,36.05 363.4,36.2 364,35.86 364.6,35.74 365.2,35.29 365.8,35.19 366.4,33.99 367,34.85 367.65,35.16 368.3,34.62 368.95,34.06 369.6,34.13 370.5,56.08 371,56.31 371.67,56.53 372.33,56.72 373,55.94 373.67,55.91 374.33,56.95 375,57.15 375.7,56.43 376.4,56.26 377.1,55.92 377.8,55.88 378.5,56.72 379.2,56.69 380.2,33.69 381.2,34.19 381.9,34.19 382.6,33.55 383.3,33.59 384,34.85 384.67,34.71 385.33,34.73 386,35.88 386.6,35.99 387.2,36.1 387.8,36.85 388.4,36.04 389,36.57 389.63,36.62 390.27,36.72 390.9,37.76 391.6,57.12 392.3,58.24 393,58.46 393.6,57.61 394.2,57.39 394.8,58.28 395.4,58.52 396,57.73 396.67,58.6 397.33,57.84 398,57 398.63,56.58 399.27,56.56 399.9,56.6 400.5,58.94 401.3,37.66 402.15,35 403,32.54 403.85,31.37 404.7,31.02 405.47,31.32 406.23,31.99 407,31.9 407.6,31.98 408.2,31.88 408.8,31.71 409.4,31.63 410,31.66 410.8,33.4 411.6,36.2" fill="none" stroke="#e8363d" stroke-width="1.12" stroke-linejoin="round"/>
<text transform="translate(376.5,25) scale(1,1.08)" font-size="9.3" text-anchor="middle" fill="#e8363d" font-weight="normal"  stroke="#e8363d" stroke-width="0.22">873 K</text>
<polygon points="421.4,35.4 422.5,66.46 423.25,66.03 424,66.02 424.67,66.16 425.33,66.39 426,66.12 426.67,66.53 427.33,66.35 428,66.41 428.67,67.14 429.33,68.52 430,69 430.8,68.19 431.6,67.43 432.6,34.4" fill="url(#gc2)"/>
<polygon points="441.9,32.8 442.8,66.11 444,66.52 444.67,66.78 445.33,66.29 446,66.09 446.67,67.24 447.33,66.53 448,66.07 448.6,65.84 449.2,65.92 449.8,65.89 450.4,66.24 451,66.31 451.7,66.37 452.4,66.73 453.5,35" fill="url(#gc2)"/>
<polygon points="463.6,36.6 464.3,68.37 465.15,69.25 466,70.29 466.6,69.78 467.2,69.34 467.8,69.53 468.4,69.49 469,69.35 469.6,68.38 470.2,68.13 470.8,67.88 471.4,66.72 472,67.16 472.9,70.05 473.9,34.4" fill="url(#gc2)"/>
<polyline points="413.8,34.63 414.53,34.04 415.27,32.89 416,32.76 416.6,33 417.2,33.65 417.8,33.38 418.4,33.27 419,33.06 419.8,33.92 420.6,34.86 421.4,35.45 422.5,66.46 423.25,66.03 424,66.02 424.67,66.16 425.33,66.39 426,66.12 426.67,66.53 427.33,66.35 428,66.41 428.67,67.14 429.33,68.52 430,69 430.8,68.19 431.6,67.43 432.6,34.57 433.3,36 434,37.44 434.6,37.32 435.2,36.57 435.8,36.21 436.4,35.68 437,35.31 437.6,34.88 438.2,34.84 438.8,33.98 439.4,33.85 440,34.38 440.63,33.53 441.27,33.35 441.9,32.77 442.8,66.11 444,66.52 444.67,66.78 445.33,66.29 446,66.09 446.67,67.24 447.33,66.53 448,66.07 448.6,65.84 449.2,65.92 449.8,65.89 450.4,66.24 451,66.31 451.7,66.37 452.4,66.73 453.5,34.92 454.4,32.68 455,31.44 455.6,32.17 456.2,33.44 456.8,34.16 457.4,35.11 458,35.95 458.67,36.17 459.33,37.46 460,37.33 460.67,36.56 461.33,36.05 462,36.25 462.8,36.38 463.6,36.64 464.3,68.37 465.15,69.25 466,70.29 466.6,69.78 467.2,69.34 467.8,69.53 468.4,69.49 469,69.35 469.6,68.38 470.2,68.13 470.8,67.88 471.4,66.72 472,67.16 472.9,70.05 473.9,34.53 474.7,33.03 475.5,32.69 476.12,32.6 476.75,32.31 477.38,32.53 478,33.02 478.67,33.12 479.33,32.76 480,32.17 480.67,32.24 481.33,32.34 482,32.41 482.67,32.99 483.33,33.22 484,33.9" fill="none" stroke="#2470d8" stroke-width="1.12" stroke-linejoin="round"/>
<text transform="translate(449.1,25) scale(1,1.08)" font-size="9.3" text-anchor="middle" fill="#2f7be0" font-weight="normal"  stroke="#2f7be0" stroke-width="0.22">973 K</text>
<polygon points="496.6,32.1 497.5,79.42 498.25,80.74 499,81.09 499.6,80.64 500.2,81.19 500.8,81.2 501.4,80.9 502,80.49 502.67,81.6 503.33,82.02 504,83.03 504.77,84.42 505.53,85.35 506.3,86.66 507.3,36.1" fill="url(#gc3)"/>
<polygon points="517.4,33.7 518.3,80.13 519,79.95 519.6,79.79 520.2,80 520.8,80.82 521.4,80.75 522,80.06 522.67,80.68 523.33,80.44 524,81.58 524.67,80.54 525.33,80.06 526,79.67 526.85,79.99 527.7,80.06 528.7,34.3" fill="url(#gc3)"/>
<polygon points="538,37.1 538.8,84.04 539.53,83.75 540.27,82.85 541,82.55 541.6,82.55 542.2,82.07 542.8,81.46 543.4,81.4 544,80.67 544.6,80.71 545.2,81.42 545.8,81.36 546.4,82.1 547,82.2 547.8,83.3 548.6,83.88 549.5,33.1" fill="url(#gc3)"/>
<polyline points="487,34.52 487.6,33.89 488.2,33.41 488.8,33.29 489.4,33.03 490,33.38 490.6,32.97 491.2,33.23 491.8,33.3 492.4,32.87 493,33.49 493.62,32.97 494.25,31.48 494.88,31.49 495.5,31.37 496.6,32.18 497.5,79.42 498.25,80.74 499,81.09 499.6,80.64 500.2,81.19 500.8,81.2 501.4,80.9 502,80.49 502.67,81.6 503.33,82.02 504,83.03 504.77,84.42 505.53,85.35 506.3,86.66 507.3,35.8 507.98,36.41 508.65,36.6 509.32,36.21 510,35.43 510.67,34.78 511.33,34.62 512,35.33 512.67,35.18 513.33,34.74 514,34.08 514.68,34.18 515.36,33.73 516.04,33.78 516.72,34.03 517.4,33.75 518.3,80.13 519,79.95 519.6,79.79 520.2,80 520.8,80.82 521.4,80.75 522,80.06 522.67,80.68 523.33,80.44 524,81.58 524.67,80.54 525.33,80.06 526,79.67 526.85,79.99 527.7,80.06 528.7,34.17 529.35,32.73 530,31.35 530.6,32.14 531.2,32.55 531.8,32.9 532.4,34.34 533,34.73 533.61,35.03 534.23,34.62 534.84,34.78 535.46,34.72 536.07,34.76 536.69,35.23 537.3,35.5 538,37.22 538.8,84.04 539.53,83.75 540.27,82.85 541,82.55 541.6,82.55 542.2,82.07 542.8,81.46 543.4,81.4 544,80.67 544.6,80.71 545.2,81.42 545.8,81.36 546.4,82.1 547,82.2 547.8,83.3 548.6,83.88 549.5,33.89 550.25,31.66 551,30.82 551.67,30.76 552.33,31.21 553,31.75 553.67,32.28 554.33,31.99 555,32.45 555.65,32.23 556.3,32.45 556.95,32.79 557.6,33.46 558.25,33.58 558.9,33.7" fill="none" stroke="#3aa760" stroke-width="1.12" stroke-linejoin="round"/>
<text transform="translate(527.2,25) scale(1,1.08)" font-size="9.3" text-anchor="middle" fill="#2f7be0" font-weight="normal"  stroke="#2f7be0" stroke-width="0.22">1073 K</text>
<polygon points="568.9,33.5 570.2,90.55 571.1,91.44 572,92.54 572.67,92.07 573.33,92.18 574,91.35 574.67,91.8 575.33,92.46 576,93.44 576.68,93.49 577.36,93.92 578.04,94.09 578.72,94.33 579.4,95.01 580.5,36.5" fill="url(#gc4)"/>
<polygon points="590.5,34.9 591.3,88.59 592,88.95 592.6,89.5 593.2,89.95 593.8,90.44 594.4,91.13 595,91.03 595.67,90.95 596.33,90.83 597,89.91 597.67,90.33 598.33,90.04 599,89.85 599.6,89.97 600.2,90.36 601,34.9" fill="url(#gc4)"/>
<polygon points="611.4,36.5 612.1,95.7 612.73,94.8 613.37,93.8 614,92.68 614.6,93.16 615.2,93.58 615.8,93.67 616.4,93.06 617,93.34 617.67,92.66 618.33,91.91 619,91.59 619.9,93.43 620.8,95.17 621.4,93.02 622.3,35.4" fill="url(#gc4)"/>
<polyline points="560.2,33.95 560.9,33.63 561.6,32.88 562.3,33.42 563,33.37 563.67,33.31 564.33,33.19 565,32.73 565.67,32.53 566.33,32.88 567,32.4 567.63,32.47 568.27,33.6 568.9,33.62 570.2,90.55 571.1,91.44 572,92.54 572.67,92.07 573.33,92.18 574,91.35 574.67,91.8 575.33,92.46 576,93.44 576.68,93.49 577.36,93.92 578.04,94.09 578.72,94.33 579.4,95.01 580.5,36.07 581.25,35.75 582,35.65 582.6,35.16 583.2,34.88 583.8,34.76 584.4,34.96 585,35.16 585.6,34.72 586.2,35.2 586.8,35.01 587.4,35.67 588,35.44 588.62,34.94 589.25,34.71 589.88,34.75 590.5,34.79 591.3,88.59 592,88.95 592.6,89.5 593.2,89.95 593.8,90.44 594.4,91.13 595,91.03 595.67,90.95 596.33,90.83 597,89.91 597.67,90.33 598.33,90.04 599,89.85 599.6,89.97 600.2,90.36 601,34.67 601.67,34.28 602.33,33.83 603,32.83 603.6,33.43 604.2,33.75 604.8,33.71 605.4,33.95 606,34.52 606.6,34.87 607.2,35.31 607.8,35.46 608.4,36.1 609,37.03 609.8,36.89 610.6,36.1 611.4,36.45 612.1,95.7 612.73,94.8 613.37,93.8 614,92.68 614.6,93.16 615.2,93.58 615.8,93.67 616.4,93.06 617,93.34 617.67,92.66 618.33,91.91 619,91.59 619.9,93.43 620.8,95.17 621.4,93.02 622.3,35.6 622.97,33.23 623.63,32.81 624.3,31.09 624.97,31.57 625.65,31.34 626.33,31.67 627,31.8 627.6,31.43 628.2,32.12 628.8,32.69 629.4,32.41 630,31.96 630.67,32.97 631.33,33.8 632,35.4" fill="none" stroke="#b074e6" stroke-width="1.12" stroke-linejoin="round"/>
<text transform="translate(598.7,25) scale(1,1.08)" font-size="9.3" text-anchor="middle" fill="#2f7be0" font-weight="normal"  stroke="#2f7be0" stroke-width="0.22">1173 K</text>
<rect x="268.4" y="11.45" width="375" height="88" fill="none" stroke="#333" stroke-width="0.9"/>
<line x1="265.8" y1="11.45" x2="268.4" y2="11.45" stroke="#333" stroke-width="0.8"/>
<text transform="translate(261.9,14.75) scale(1,1.08)" font-size="9.2" text-anchor="end" fill="#231f20" font-weight="normal"  stroke="#231f20" stroke-width="0.22">0</text>
<line x1="267" y1="26.12" x2="268.4" y2="26.12" stroke="#333" stroke-width="0.8"/>
<line x1="265.8" y1="40.78" x2="268.4" y2="40.78" stroke="#333" stroke-width="0.8"/>
<text transform="translate(261.9,44.08) scale(1,1.08)" font-size="9.2" text-anchor="end" fill="#231f20" font-weight="normal"  stroke="#231f20" stroke-width="0.22">&#8722;20</text>
<line x1="267" y1="55.45" x2="268.4" y2="55.45" stroke="#333" stroke-width="0.8"/>
<line x1="265.8" y1="70.12" x2="268.4" y2="70.12" stroke="#333" stroke-width="0.8"/>
<text transform="translate(261.9,73.42) scale(1,1.08)" font-size="9.2" text-anchor="end" fill="#231f20" font-weight="normal"  stroke="#231f20" stroke-width="0.22">&#8722;40</text>
<line x1="267" y1="84.78" x2="268.4" y2="84.78" stroke="#333" stroke-width="0.8"/>
<line x1="265.8" y1="99.45" x2="268.4" y2="99.45" stroke="#333" stroke-width="0.8"/>
<text transform="translate(261.9,102.75) scale(1,1.08)" font-size="9.2" text-anchor="end" fill="#231f20" font-weight="normal"  stroke="#231f20" stroke-width="0.22">&#8722;60</text>
<line x1="268.4" y1="99.45" x2="268.4" y2="102.05" stroke="#333" stroke-width="0.8"/>
<text transform="translate(268.4,113.7) scale(1,1.08)" font-size="9.2" text-anchor="middle" fill="#231f20" font-weight="normal"  stroke="#231f20" stroke-width="0.22">0</text>
<line x1="289.23" y1="99.45" x2="289.23" y2="100.85" stroke="#333" stroke-width="0.8"/>
<line x1="310.07" y1="99.45" x2="310.07" y2="102.05" stroke="#333" stroke-width="0.8"/>
<text transform="translate(310.07,113.7) scale(1,1.08)" font-size="9.2" text-anchor="middle" fill="#231f20" font-weight="normal"  stroke="#231f20" stroke-width="0.22">2</text>
<line x1="330.9" y1="99.45" x2="330.9" y2="100.85" stroke="#333" stroke-width="0.8"/>
<line x1="351.73" y1="99.45" x2="351.73" y2="102.05" stroke="#333" stroke-width="0.8"/>
<text transform="translate(351.73,113.7) scale(1,1.08)" font-size="9.2" text-anchor="middle" fill="#231f20" font-weight="normal"  stroke="#231f20" stroke-width="0.22">4</text>
<line x1="372.57" y1="99.45" x2="372.57" y2="100.85" stroke="#333" stroke-width="0.8"/>
<line x1="393.4" y1="99.45" x2="393.4" y2="102.05" stroke="#333" stroke-width="0.8"/>
<text transform="translate(393.4,113.7) scale(1,1.08)" font-size="9.2" text-anchor="middle" fill="#231f20" font-weight="normal"  stroke="#231f20" stroke-width="0.22">6</text>
<line x1="414.23" y1="99.45" x2="414.23" y2="100.85" stroke="#333" stroke-width="0.8"/>
<line x1="435.07" y1="99.45" x2="435.07" y2="102.05" stroke="#333" stroke-width="0.8"/>
<text transform="translate(435.07,113.7) scale(1,1.08)" font-size="9.2" text-anchor="middle" fill="#231f20" font-weight="normal"  stroke="#231f20" stroke-width="0.22">8</text>
<line x1="455.9" y1="99.45" x2="455.9" y2="100.85" stroke="#333" stroke-width="0.8"/>
<line x1="476.73" y1="99.45" x2="476.73" y2="102.05" stroke="#333" stroke-width="0.8"/>
<text transform="translate(476.73,113.7) scale(1,1.08)" font-size="9.2" text-anchor="middle" fill="#231f20" font-weight="normal"  stroke="#231f20" stroke-width="0.22">10</text>
<line x1="497.57" y1="99.45" x2="497.57" y2="100.85" stroke="#333" stroke-width="0.8"/>
<line x1="518.4" y1="99.45" x2="518.4" y2="102.05" stroke="#333" stroke-width="0.8"/>
<text transform="translate(518.4,113.7) scale(1,1.08)" font-size="9.2" text-anchor="middle" fill="#231f20" font-weight="normal"  stroke="#231f20" stroke-width="0.22">12</text>
<line x1="539.23" y1="99.45" x2="539.23" y2="100.85" stroke="#333" stroke-width="0.8"/>
<line x1="560.07" y1="99.45" x2="560.07" y2="102.05" stroke="#333" stroke-width="0.8"/>
<text transform="translate(560.07,113.7) scale(1,1.08)" font-size="9.2" text-anchor="middle" fill="#231f20" font-weight="normal"  stroke="#231f20" stroke-width="0.22">14</text>
<line x1="580.9" y1="99.45" x2="580.9" y2="100.85" stroke="#333" stroke-width="0.8"/>
<line x1="601.73" y1="99.45" x2="601.73" y2="102.05" stroke="#333" stroke-width="0.8"/>
<text transform="translate(601.73,113.7) scale(1,1.08)" font-size="9.2" text-anchor="middle" fill="#231f20" font-weight="normal"  stroke="#231f20" stroke-width="0.22">16</text>
<line x1="622.57" y1="99.45" x2="622.57" y2="100.85" stroke="#333" stroke-width="0.8"/>
<line x1="643.4" y1="99.45" x2="643.4" y2="102.05" stroke="#333" stroke-width="0.8"/>
<text transform="translate(643.4,113.7) scale(1,1.08)" font-size="9.2" text-anchor="middle" fill="#231f20" font-weight="normal"  stroke="#231f20" stroke-width="0.22">18</text>
<text transform="translate(455.6,127.4) scale(1,1.08)" font-size="9.2" text-anchor="middle" fill="#231f20" font-weight="normal"  stroke="#231f20" stroke-width="0.22">Time (s)</text>
<text transform="translate(237.6,55.1) rotate(-90) scale(1,1.08)" font-size="9.3" text-anchor="middle" fill="#231f20" stroke="#231f20" stroke-width="0.22">Current (nA)</text>
<text transform="translate(278.6,86.8) scale(1,1.08)" font-size="9.2" fill="#231f20" stroke="#231f20" stroke-width="0.22"><tspan font-style="italic">V</tspan><tspan font-size="6" dy="2">ds</tspan><tspan dy="-2"> = &#8722;1 V, </tspan><tspan font-style="italic">f</tspan><tspan> = 1 Hz</tspan></text>
<text x="227.2" y="143.8" font-size="15" text-anchor="start" fill="#000" font-weight="bold" >d</text>
<polyline points="268.5,176.2 268.83,176.2 269.16,176.2 269.48,176.2 269.81,176.2 270.14,176.2 270.47,176.2 270.79,176.2 271.12,176.2 271.45,176.2 271.78,176.2 272.1,176.2 272.43,176.2 272.76,176.2 273.09,176.2 273.41,176.2 273.74,176.2 274.07,176.2 274.4,176.2 274.72,176.2 275.05,176.2 275.38,176.2 275.71,176.2 276.03,176.2 276.36,176.2 276.69,176.2 277.02,176.2 277.35,176.2 277.67,176.2 278,176.2 278.33,176.2 278.66,176.2 278.98,176.2 279.31,176.2 279.64,176.2 279.97,176.2 280.29,176.2 280.62,176.2 280.95,176.2 281.28,176.2 281.6,176.2 281.93,176.2 282.26,176.2 282.59,176.2 282.91,176.2 283.24,176.2 283.57,176.2 283.9,176.2 284.22,176.2 284.55,176.2 284.88,176.2 285.21,176.2 285.54,176.2 285.86,176.2 286.19,176.2 286.52,176.2 286.85,176.2 287.17,176.2 287.5,176.2 287.83,176.2 288.16,176.2 288.48,176.2 288.81,176.2 289.14,176.2 289.47,176.2 289.79,176.2 290.12,176.2 290.45,176.2 290.78,176.2 291.1,176.2 291.43,176.2 291.76,176.2 292.09,176.2 292.41,176.2 292.74,176.2 293.07,176.2 293.4,176.2 293.73,176.2 294.05,176.2 294.38,176.2 294.71,176.2 295.04,176.2 295.36,176.2 295.69,176.2 296.02,176.2 296.35,176.2 296.67,176.2 297,176.2 297.33,176.2 297.66,176.2 297.98,176.2 298.31,176.2 298.64,176.2 298.97,176.2 299.29,176.2 299.62,176.2 299.95,176.2 300.28,176.2 300.6,176.2 300.93,176.2 301.26,176.2 301.59,176.2 301.92,176.2 302.24,176.2 302.57,176.2 302.9,176.2 303.23,176.2 303.55,176.2 303.88,176.2 304.21,176.2 304.54,176.2 304.86,176.2 305.19,176.2 305.52,176.2 305.85,176.2 306.17,176.2 306.5,176.2 306.83,176.2 307.16,176.2 307.48,176.2 307.81,176.2 308.14,176.2 308.47,176.2 308.79,176.2 309.12,176.2 309.45,176.2 309.78,176.2 310.11,176.2 310.43,176.2 310.76,176.2 311.09,176.2 311.42,176.2 311.74,176.2 312.07,176.2 312.4,176.2 312.73,176.2 313.05,176.2 313.38,176.2 313.71,176.2 314.04,176.2 314.36,176.2 314.69,176.2 315.02,176.2 315.35,176.2 315.67,176.2 316,176.2 316.33,176.2 316.66,176.2 316.98,176.2 317.31,176.2 317.64,176.2 317.97,176.2 318.3,176.2 318.62,176.2 318.95,176.2 319.28,176.2 319.61,176.2 319.93,176.2 320.26,176.2 320.59,176.2 320.92,176.2 321.24,176.2 321.57,176.2 321.9,176.2 322.23,176.2 322.55,176.2 322.88,176.2 323.21,176.2 323.54,176.2 323.86,176.2 324.19,176.2 324.52,176.2 324.85,176.2 325.17,176.2 325.5,176.2 325.83,176.2 326.16,176.2 326.49,176.2 326.81,176.2 327.14,176.2 327.47,176.2 327.8,176.2 328.12,176.2 328.45,176.21 328.78,176.21 329.11,176.21 329.43,176.21 329.76,176.21 330.09,176.21 330.42,176.21 330.74,176.21 331.07,176.21 331.4,176.21 331.73,176.21 332.05,176.21 332.38,176.21 332.71,176.21 333.04,176.21 333.36,176.21 333.69,176.21 334.02,176.21 334.35,176.21 334.68,176.21 335,176.21 335.33,176.21 335.66,176.21 335.99,176.21 336.31,176.21 336.64,176.21 336.97,176.21 337.3,176.21 337.62,176.21 337.95,176.21 338.28,176.22 338.61,176.22 338.93,176.22 339.26,176.22 339.59,176.22 339.92,176.22 340.24,176.22 340.57,176.22 340.9,176.22 341.23,176.22 341.55,176.22 341.88,176.22 342.21,176.23 342.54,176.23 342.87,176.23 343.19,176.23 343.52,176.23 343.85,176.23 344.18,176.23 344.5,176.23 344.83,176.24 345.16,176.24 345.49,176.24 345.81,176.24 346.14,176.24 346.47,176.24 346.8,176.25 347.12,176.25 347.45,176.25 347.78,176.25 348.11,176.26 348.43,176.26 348.76,176.26 349.09,176.26 349.42,176.27 349.74,176.27 350.07,176.27 350.4,176.28 350.73,176.28 351.06,176.28 351.38,176.29 351.71,176.29 352.04,176.29 352.37,176.3 352.69,176.3 353.02,176.31 353.35,176.31 353.68,176.32 354,176.32 354.33,176.33 354.66,176.34 354.99,176.34 355.31,176.35 355.64,176.36 355.97,176.36 356.3,176.37 356.62,176.38 356.95,176.39 357.28,176.4 357.61,176.4 357.93,176.41 358.26,176.42 358.59,176.43 358.92,176.45 359.25,176.46 359.57,176.47 359.9,176.48 360.23,176.49 360.56,176.51 360.88,176.52 361.21,176.54 361.54,176.55 361.87,176.57 362.19,176.59 362.52,176.6 362.85,176.62 363.18,176.64 363.5,176.66 363.83,176.68 364.16,176.71 364.49,176.73 364.81,176.75 365.14,176.78 365.47,176.81 365.8,176.83 366.12,176.86 366.45,176.89 366.78,176.93 367.11,176.96 367.44,176.99 367.76,177.03 368.09,177.07 368.42,177.11 368.75,177.15 369.07,177.19 369.4,177.24 369.73,177.28 370.06,177.33 370.38,177.38 370.71,177.44 371.04,177.49 371.37,177.55 371.69,177.61 372.02,177.68 372.35,177.74 372.68,177.81 373,177.88 373.33,177.96 373.66,178.04 373.99,178.12 374.31,178.2 374.64,178.29 374.97,178.38 375.3,178.48 375.63,178.57 375.95,178.68 376.28,178.79 376.61,178.9 376.94,179.01 377.26,179.13 377.59,179.26 377.92,179.39 378.25,179.52 378.57,179.66 378.9,179.81 379.23,179.96 379.56,180.11 379.88,180.27 380.21,180.44 380.54,180.61 380.87,180.79 381.19,180.98 381.52,181.17 381.85,181.37 382.18,181.57 382.5,181.78 382.83,182 383.16,182.23 383.49,182.46 383.82,182.7 384.14,182.95 384.47,183.2 384.8,183.46 385.13,183.73 385.45,184.01 385.78,184.29 386.11,184.58 386.44,184.88 386.76,185.19 387.09,185.51 387.42,185.83 387.75,186.16 388.07,186.5 388.4,186.85 388.73,187.2 389.06,187.56 389.38,187.94 389.71,188.31 390.04,188.7 390.37,189.1 390.69,189.5 391.02,189.91 391.35,190.33 391.68,190.75 392.01,191.18 392.33,191.62 392.66,192.07 392.99,192.53 393.32,192.99 393.64,193.46 393.97,193.93 394.3,194.42 394.63,194.91 394.95,195.4 395.28,195.9 395.61,196.41 395.94,196.93 396.26,197.45 396.59,197.97 396.92,198.51 397.25,199.04 397.57,199.59 397.9,200.13 398.23,200.69 398.56,201.25 398.88,201.81 399.21,202.38 399.54,202.95 399.87,203.53 400.2,204.11 400.52,204.7 400.85,205.29 401.18,205.88 401.51,206.48 401.83,207.08 402.16,207.68 402.49,208.29 402.82,208.9 403.14,209.52 403.47,210.14 403.8,210.76 404.13,211.38 404.45,212.01 404.78,212.64 405.11,213.27 405.44,213.9 405.76,214.54 406.09,215.18 406.42,215.82 406.75,216.46 407.07,217.11 407.4,217.75 407.73,218.4 408.06,219.05 408.39,219.7 408.71,220.36 409.04,221.01 409.37,221.67 409.7,222.33 410.02,222.99 410.35,223.65 410.68,224.32 411.01,224.98 411.33,225.64 411.66,226.31 411.99,226.98 412.32,227.65 412.64,228.32 412.97,228.99 413.3,229.66 413.63,230.33 413.95,231 414.28,231.68 414.61,232.35 414.94,233.03 415.26,233.7 415.59,234.38 415.92,235.06 416.25,235.74 416.58,236.41 416.9,237.09 417.23,237.77 417.56,238.45 417.89,239.13 418.21,239.82 418.54,240.5 418.87,241.18 419.2,241.86 419.52,242.55 419.85,243.23 420.18,243.91 420.51,244.6 420.83,245.28 421.16,245.97 421.49,246.65 421.82,247.34 422.14,248.02 422.47,248.71 422.8,249.39 423.13,250.08 423.45,250.77 423.78,251.45 424.11,252.14 424.44,252.83 424.77,253.52 425.09,254.2 425.42,254.89 425.75,255.58 426.08,256.27 426.4,256.95 426.73,257.64 427.06,258.33 427.39,259.02 427.71,259.71 428.04,260.4 428.37,261.09 428.7,261.78 429.02,262.47 429.35,263.15 429.68,263.84 430.01,264.53 430.33,265.22 430.66,265.91 430.99,266.6 431.32,267.29 431.64,267.98 431.97,268.67 432.3,269.36" fill="none" stroke="#f04545" stroke-width="1.2" stroke-dasharray="2.3 2.6"/>
<line x1="388.18" y1="176.5" x2="388.18" y2="283.4" stroke="#333" stroke-width="0.8" stroke-dasharray="3 2"/>
<rect x="267.5" y="174.5" width="3.4" height="3.4" fill="none" stroke="#2a74dc" stroke-width="0.9"/>
<rect x="338.1" y="174.5" width="3.4" height="3.4" fill="none" stroke="#2a74dc" stroke-width="0.9"/>
<rect x="351.9" y="175.4" width="3.4" height="3.4" fill="none" stroke="#2a74dc" stroke-width="0.9"/>
<rect x="355.2" y="172.7" width="3.4" height="3.4" fill="none" stroke="#2a74dc" stroke-width="0.9"/>
<rect x="357.4" y="176.2" width="3.4" height="3.4" fill="none" stroke="#2a74dc" stroke-width="0.9"/>
<rect x="359.6" y="176.2" width="3.4" height="3.4" fill="none" stroke="#2a74dc" stroke-width="0.9"/>
<rect x="361.8" y="174.5" width="3.4" height="3.4" fill="none" stroke="#2a74dc" stroke-width="0.9"/>
<rect x="364.4" y="174" width="3.4" height="3.4" fill="none" stroke="#2a74dc" stroke-width="0.9"/>
<rect x="367" y="174.5" width="3.4" height="3.4" fill="none" stroke="#2a74dc" stroke-width="0.9"/>
<rect x="369.2" y="174.9" width="3.4" height="3.4" fill="none" stroke="#2a74dc" stroke-width="0.9"/>
<rect x="371.8" y="174.5" width="3.4" height="3.4" fill="none" stroke="#2a74dc" stroke-width="0.9"/>
<rect x="374.5" y="175.4" width="3.4" height="3.4" fill="none" stroke="#2a74dc" stroke-width="0.9"/>
<rect x="376.6" y="176.7" width="3.4" height="3.4" fill="none" stroke="#2a74dc" stroke-width="0.9"/>
<rect x="379.3" y="177.1" width="3.4" height="3.4" fill="none" stroke="#2a74dc" stroke-width="0.9"/>
<rect x="381" y="179.9" width="3.4" height="3.4" fill="none" stroke="#2a74dc" stroke-width="0.9"/>
<rect x="353.3" y="176.1" width="3.4" height="3.4" fill="none" stroke="#2a74dc" stroke-width="0.9"/>
<rect x="363.3" y="174.9" width="3.4" height="3.4" fill="none" stroke="#2a74dc" stroke-width="0.9"/>
<rect x="370.3" y="175.3" width="3.4" height="3.4" fill="none" stroke="#2a74dc" stroke-width="0.9"/>
<rect x="373.3" y="174.7" width="3.4" height="3.4" fill="none" stroke="#2a74dc" stroke-width="0.9"/>
<rect x="378.3" y="176.4" width="3.4" height="3.4" fill="none" stroke="#2a74dc" stroke-width="0.9"/>
<rect x="268.5" y="145.1" width="163.8" height="138.3" fill="none" stroke="#333" stroke-width="0.9"/>
<line x1="265.9" y1="283.4" x2="268.5" y2="283.4" stroke="#333" stroke-width="0.8"/>
<text transform="translate(262.1,286.7) scale(1,1.08)" font-size="9.2" text-anchor="end" fill="#231f20" stroke="#231f20" stroke-width="0.22">10<tspan font-size="6.2" dy="-3.6">&#8722;1</tspan></text>
<line x1="267.1" y1="262.58" x2="268.5" y2="262.58" stroke="#333" stroke-width="0.6"/>
<line x1="267.1" y1="250.41" x2="268.5" y2="250.41" stroke="#333" stroke-width="0.6"/>
<line x1="267.1" y1="241.77" x2="268.5" y2="241.77" stroke="#333" stroke-width="0.6"/>
<line x1="267.1" y1="235.07" x2="268.5" y2="235.07" stroke="#333" stroke-width="0.6"/>
<line x1="267.1" y1="229.59" x2="268.5" y2="229.59" stroke="#333" stroke-width="0.6"/>
<line x1="267.1" y1="224.96" x2="268.5" y2="224.96" stroke="#333" stroke-width="0.6"/>
<line x1="267.1" y1="220.95" x2="268.5" y2="220.95" stroke="#333" stroke-width="0.6"/>
<line x1="267.1" y1="217.41" x2="268.5" y2="217.41" stroke="#333" stroke-width="0.6"/>
<line x1="265.9" y1="214.25" x2="268.5" y2="214.25" stroke="#333" stroke-width="0.8"/>
<text transform="translate(262.1,217.55) scale(1,1.08)" font-size="9.2" text-anchor="end" fill="#231f20" stroke="#231f20" stroke-width="0.22">10<tspan font-size="6.2" dy="-3.6">0</tspan></text>
<line x1="267.1" y1="193.43" x2="268.5" y2="193.43" stroke="#333" stroke-width="0.6"/>
<line x1="267.1" y1="181.26" x2="268.5" y2="181.26" stroke="#333" stroke-width="0.6"/>
<line x1="267.1" y1="172.62" x2="268.5" y2="172.62" stroke="#333" stroke-width="0.6"/>
<line x1="267.1" y1="165.92" x2="268.5" y2="165.92" stroke="#333" stroke-width="0.6"/>
<line x1="267.1" y1="160.44" x2="268.5" y2="160.44" stroke="#333" stroke-width="0.6"/>
<line x1="267.1" y1="155.81" x2="268.5" y2="155.81" stroke="#333" stroke-width="0.6"/>
<line x1="267.1" y1="151.8" x2="268.5" y2="151.8" stroke="#333" stroke-width="0.6"/>
<line x1="267.1" y1="148.26" x2="268.5" y2="148.26" stroke="#333" stroke-width="0.6"/>
<line x1="265.9" y1="145.1" x2="268.5" y2="145.1" stroke="#333" stroke-width="0.8"/>
<text transform="translate(262.1,148.4) scale(1,1.08)" font-size="9.2" text-anchor="end" fill="#231f20" stroke="#231f20" stroke-width="0.22">10<tspan font-size="6.2" dy="-3.6">1</tspan></text>
<line x1="268.5" y1="283.4" x2="268.5" y2="286" stroke="#333" stroke-width="0.8"/>
<text transform="translate(269.3,297.6) scale(1,1.08)" font-size="9.2" text-anchor="middle" fill="#231f20" stroke="#231f20" stroke-width="0.22">10<tspan font-size="6.2" dy="-3.6">0</tspan></text>
<line x1="278.36" y1="283.4" x2="278.36" y2="284.8" stroke="#333" stroke-width="0.6"/>
<line x1="284.13" y1="283.4" x2="284.13" y2="284.8" stroke="#333" stroke-width="0.6"/>
<line x1="288.22" y1="283.4" x2="288.22" y2="284.8" stroke="#333" stroke-width="0.6"/>
<line x1="291.4" y1="283.4" x2="291.4" y2="284.8" stroke="#333" stroke-width="0.6"/>
<line x1="293.99" y1="283.4" x2="293.99" y2="284.8" stroke="#333" stroke-width="0.6"/>
<line x1="296.19" y1="283.4" x2="296.19" y2="284.8" stroke="#333" stroke-width="0.6"/>
<line x1="298.09" y1="283.4" x2="298.09" y2="284.8" stroke="#333" stroke-width="0.6"/>
<line x1="299.76" y1="283.4" x2="299.76" y2="284.8" stroke="#333" stroke-width="0.6"/>
<line x1="301.26" y1="283.4" x2="301.26" y2="286" stroke="#333" stroke-width="0.8"/>
<text transform="translate(302.06,297.6) scale(1,1.08)" font-size="9.2" text-anchor="middle" fill="#231f20" stroke="#231f20" stroke-width="0.22">10<tspan font-size="6.2" dy="-3.6">1</tspan></text>
<line x1="311.12" y1="283.4" x2="311.12" y2="284.8" stroke="#333" stroke-width="0.6"/>
<line x1="316.89" y1="283.4" x2="316.89" y2="284.8" stroke="#333" stroke-width="0.6"/>
<line x1="320.98" y1="283.4" x2="320.98" y2="284.8" stroke="#333" stroke-width="0.6"/>
<line x1="324.16" y1="283.4" x2="324.16" y2="284.8" stroke="#333" stroke-width="0.6"/>
<line x1="326.75" y1="283.4" x2="326.75" y2="284.8" stroke="#333" stroke-width="0.6"/>
<line x1="328.95" y1="283.4" x2="328.95" y2="284.8" stroke="#333" stroke-width="0.6"/>
<line x1="330.85" y1="283.4" x2="330.85" y2="284.8" stroke="#333" stroke-width="0.6"/>
<line x1="332.52" y1="283.4" x2="332.52" y2="284.8" stroke="#333" stroke-width="0.6"/>
<line x1="334.02" y1="283.4" x2="334.02" y2="286" stroke="#333" stroke-width="0.8"/>
<text transform="translate(334.82,297.6) scale(1,1.08)" font-size="9.2" text-anchor="middle" fill="#231f20" stroke="#231f20" stroke-width="0.22">10<tspan font-size="6.2" dy="-3.6">2</tspan></text>
<line x1="343.88" y1="283.4" x2="343.88" y2="284.8" stroke="#333" stroke-width="0.6"/>
<line x1="349.65" y1="283.4" x2="349.65" y2="284.8" stroke="#333" stroke-width="0.6"/>
<line x1="353.74" y1="283.4" x2="353.74" y2="284.8" stroke="#333" stroke-width="0.6"/>
<line x1="356.92" y1="283.4" x2="356.92" y2="284.8" stroke="#333" stroke-width="0.6"/>
<line x1="359.51" y1="283.4" x2="359.51" y2="284.8" stroke="#333" stroke-width="0.6"/>
<line x1="361.71" y1="283.4" x2="361.71" y2="284.8" stroke="#333" stroke-width="0.6"/>
<line x1="363.61" y1="283.4" x2="363.61" y2="284.8" stroke="#333" stroke-width="0.6"/>
<line x1="365.28" y1="283.4" x2="365.28" y2="284.8" stroke="#333" stroke-width="0.6"/>
<line x1="366.78" y1="283.4" x2="366.78" y2="286" stroke="#333" stroke-width="0.8"/>
<text transform="translate(367.58,297.6) scale(1,1.08)" font-size="9.2" text-anchor="middle" fill="#231f20" stroke="#231f20" stroke-width="0.22">10<tspan font-size="6.2" dy="-3.6">3</tspan></text>
<line x1="376.64" y1="283.4" x2="376.64" y2="284.8" stroke="#333" stroke-width="0.6"/>
<line x1="382.41" y1="283.4" x2="382.41" y2="284.8" stroke="#333" stroke-width="0.6"/>
<line x1="386.5" y1="283.4" x2="386.5" y2="284.8" stroke="#333" stroke-width="0.6"/>
<line x1="389.68" y1="283.4" x2="389.68" y2="284.8" stroke="#333" stroke-width="0.6"/>
<line x1="392.27" y1="283.4" x2="392.27" y2="284.8" stroke="#333" stroke-width="0.6"/>
<line x1="394.47" y1="283.4" x2="394.47" y2="284.8" stroke="#333" stroke-width="0.6"/>
<line x1="396.37" y1="283.4" x2="396.37" y2="284.8" stroke="#333" stroke-width="0.6"/>
<line x1="398.04" y1="283.4" x2="398.04" y2="284.8" stroke="#333" stroke-width="0.6"/>
<line x1="399.54" y1="283.4" x2="399.54" y2="286" stroke="#333" stroke-width="0.8"/>
<text transform="translate(400.34,297.6) scale(1,1.08)" font-size="9.2" text-anchor="middle" fill="#231f20" stroke="#231f20" stroke-width="0.22">10<tspan font-size="6.2" dy="-3.6">4</tspan></text>
<line x1="409.4" y1="283.4" x2="409.4" y2="284.8" stroke="#333" stroke-width="0.6"/>
<line x1="415.17" y1="283.4" x2="415.17" y2="284.8" stroke="#333" stroke-width="0.6"/>
<line x1="419.26" y1="283.4" x2="419.26" y2="284.8" stroke="#333" stroke-width="0.6"/>
<line x1="422.44" y1="283.4" x2="422.44" y2="284.8" stroke="#333" stroke-width="0.6"/>
<line x1="425.03" y1="283.4" x2="425.03" y2="284.8" stroke="#333" stroke-width="0.6"/>
<line x1="427.23" y1="283.4" x2="427.23" y2="284.8" stroke="#333" stroke-width="0.6"/>
<line x1="429.13" y1="283.4" x2="429.13" y2="284.8" stroke="#333" stroke-width="0.6"/>
<line x1="430.8" y1="283.4" x2="430.8" y2="284.8" stroke="#333" stroke-width="0.6"/>
<line x1="432.3" y1="283.4" x2="432.3" y2="286" stroke="#333" stroke-width="0.8"/>
<text transform="translate(433.1,297.6) scale(1,1.08)" font-size="9.2" text-anchor="middle" fill="#231f20" stroke="#231f20" stroke-width="0.22">10<tspan font-size="6.2" dy="-3.6">5</tspan></text>
<text transform="translate(343.3,313.6) scale(1,1.08)" font-size="9.2" text-anchor="middle" fill="#231f20" font-weight="normal"  stroke="#231f20" stroke-width="0.22">Frequency (Hz)</text>
<text transform="translate(238.2,213.8) rotate(-90) scale(1,1.08)" font-size="9.2" text-anchor="middle" fill="#231f20" stroke="#231f20" stroke-width="0.22">Responsivity (A/W)</text>
<text transform="translate(282,158.8) scale(1,1.08)" font-size="7.6" text-anchor="start" fill="#231f20" font-weight="normal"  stroke="#231f20" stroke-width="0.165">Blackbody 1173K</text>
<rect x="381" y="150.4" width="3.4" height="3.4" fill="none" stroke="#2a74dc" stroke-width="0.9"/>
<text transform="translate(393.2,155) scale(1,1.08)" font-size="7.6" text-anchor="start" fill="#231f20" font-weight="normal"  stroke="#231f20" stroke-width="0.165">Measured</text>
<line x1="375.6" y1="161.2" x2="391.3" y2="161.2" stroke="#f04545" stroke-width="1.2" stroke-dasharray="2.3 2.6"/>
<text transform="translate(393.2,164) scale(1,1.08)" font-size="7.6" text-anchor="start" fill="#231f20" font-weight="normal"  stroke="#231f20" stroke-width="0.165">Calculated</text>
<text transform="translate(390.7,277.0) scale(1,1.08)" font-size="7.4" font-style="italic" fill="#231f20" stroke="#231f20" stroke-width="0.159">f<tspan font-size="5" dy="1.8">&#8722;3dB</tspan><tspan dy="-1.8">=4.5k</tspan></text>
<circle cx="291.38" cy="251.71" r="1.0" fill="none" stroke="#f06868" stroke-width="0.55"/>
<circle cx="291.79" cy="246.78" r="1.0" fill="none" stroke="#f06868" stroke-width="0.55"/>
<circle cx="292.24" cy="246.47" r="1.0" fill="none" stroke="#f06868" stroke-width="0.55"/>
<circle cx="292.28" cy="244.56" r="1.0" fill="none" stroke="#f06868" stroke-width="0.55"/>
<circle cx="292.46" cy="243.22" r="1.0" fill="none" stroke="#f06868" stroke-width="0.55"/>
<circle cx="293.34" cy="244.92" r="1.0" fill="none" stroke="#f06868" stroke-width="0.55"/>
<circle cx="293.11" cy="250.36" r="1.0" fill="none" stroke="#f06868" stroke-width="0.55"/>
<circle cx="293.47" cy="251.45" r="1.0" fill="none" stroke="#f06868" stroke-width="0.55"/>
<circle cx="294.04" cy="247.1" r="1.0" fill="none" stroke="#f06868" stroke-width="0.55"/>
<circle cx="294.6" cy="245.81" r="1.0" fill="none" stroke="#f06868" stroke-width="0.55"/>
<circle cx="294.83" cy="252.31" r="1.0" fill="none" stroke="#f06868" stroke-width="0.55"/>
<circle cx="294.93" cy="248.47" r="1.0" fill="none" stroke="#f06868" stroke-width="0.55"/>
<circle cx="295.52" cy="237.79" r="1.0" fill="none" stroke="#f06868" stroke-width="0.55"/>
<circle cx="295.57" cy="248.09" r="1.0" fill="none" stroke="#f06868" stroke-width="0.55"/>
<circle cx="296" cy="248.23" r="1.0" fill="none" stroke="#f06868" stroke-width="0.55"/>
<circle cx="296.33" cy="246.8" r="1.0" fill="none" stroke="#f06868" stroke-width="0.55"/>
<circle cx="296.55" cy="234.49" r="1.0" fill="none" stroke="#f06868" stroke-width="0.55"/>
<circle cx="297.04" cy="249.5" r="1.0" fill="none" stroke="#f06868" stroke-width="0.55"/>
<circle cx="297.47" cy="244.87" r="1.0" fill="none" stroke="#f06868" stroke-width="0.55"/>
<circle cx="297.59" cy="248.33" r="1.0" fill="none" stroke="#f06868" stroke-width="0.55"/>
<circle cx="298.21" cy="245.58" r="1.0" fill="none" stroke="#f06868" stroke-width="0.55"/>
<circle cx="298.24" cy="246.5" r="1.0" fill="none" stroke="#f06868" stroke-width="0.55"/>
<circle cx="298.53" cy="247.07" r="1.0" fill="none" stroke="#f06868" stroke-width="0.55"/>
<circle cx="299.03" cy="247.3" r="1.0" fill="none" stroke="#f06868" stroke-width="0.55"/>
<circle cx="299.48" cy="246.13" r="1.0" fill="none" stroke="#f06868" stroke-width="0.55"/>
<circle cx="299.68" cy="243.29" r="1.0" fill="none" stroke="#f06868" stroke-width="0.55"/>
<circle cx="300.24" cy="247.38" r="1.0" fill="none" stroke="#f06868" stroke-width="0.55"/>
<circle cx="300.62" cy="245.57" r="1.0" fill="none" stroke="#f06868" stroke-width="0.55"/>
<circle cx="300.81" cy="247.19" r="1.0" fill="none" stroke="#f06868" stroke-width="0.55"/>
<circle cx="301.35" cy="244.96" r="1.0" fill="none" stroke="#f06868" stroke-width="0.55"/>
<circle cx="301.28" cy="247.4" r="1.0" fill="none" stroke="#f06868" stroke-width="0.55"/>
<circle cx="301.46" cy="245.63" r="1.0" fill="none" stroke="#f06868" stroke-width="0.55"/>
<circle cx="302.11" cy="244.51" r="1.0" fill="none" stroke="#f06868" stroke-width="0.55"/>
<circle cx="302.36" cy="245.76" r="1.0" fill="none" stroke="#f06868" stroke-width="0.55"/>
<circle cx="302.94" cy="244.52" r="1.0" fill="none" stroke="#f06868" stroke-width="0.55"/>
<circle cx="302.84" cy="248.84" r="1.0" fill="none" stroke="#f06868" stroke-width="0.55"/>
<circle cx="303.2" cy="243.18" r="1.0" fill="none" stroke="#f06868" stroke-width="0.55"/>
<circle cx="303.98" cy="251.03" r="1.0" fill="none" stroke="#f06868" stroke-width="0.55"/>
<circle cx="304.11" cy="245.46" r="1.0" fill="none" stroke="#f06868" stroke-width="0.55"/>
<circle cx="304.15" cy="240.83" r="1.0" fill="none" stroke="#f06868" stroke-width="0.55"/>
<circle cx="304.84" cy="240.28" r="1.0" fill="none" stroke="#f06868" stroke-width="0.55"/>
<circle cx="305.24" cy="246.04" r="1.0" fill="none" stroke="#f06868" stroke-width="0.55"/>
<circle cx="305.51" cy="250.05" r="1.0" fill="none" stroke="#f06868" stroke-width="0.55"/>
<circle cx="305.55" cy="249.41" r="1.0" fill="none" stroke="#f06868" stroke-width="0.55"/>
<circle cx="305.92" cy="253.55" r="1.0" fill="none" stroke="#f06868" stroke-width="0.55"/>
<circle cx="306.2" cy="250.14" r="1.0" fill="none" stroke="#f06868" stroke-width="0.55"/>
<circle cx="306.45" cy="245.52" r="1.0" fill="none" stroke="#f06868" stroke-width="0.55"/>
<circle cx="306.97" cy="247.69" r="1.0" fill="none" stroke="#f06868" stroke-width="0.55"/>
<circle cx="307.61" cy="249.41" r="1.0" fill="none" stroke="#f06868" stroke-width="0.55"/>
<circle cx="307.81" cy="248.66" r="1.0" fill="none" stroke="#f06868" stroke-width="0.55"/>
<circle cx="307.77" cy="249.42" r="1.0" fill="none" stroke="#f06868" stroke-width="0.55"/>
<circle cx="308.62" cy="244.05" r="1.0" fill="none" stroke="#f06868" stroke-width="0.55"/>
<circle cx="308.79" cy="242.64" r="1.0" fill="none" stroke="#f06868" stroke-width="0.55"/>
<circle cx="309.18" cy="255.47" r="1.0" fill="none" stroke="#f06868" stroke-width="0.55"/>
<circle cx="309.41" cy="252.9" r="1.0" fill="none" stroke="#f06868" stroke-width="0.55"/>
<circle cx="309.95" cy="237.23" r="1.0" fill="none" stroke="#f06868" stroke-width="0.55"/>
<circle cx="310.29" cy="248.33" r="1.0" fill="none" stroke="#f06868" stroke-width="0.55"/>
<circle cx="310.49" cy="252.73" r="1.0" fill="none" stroke="#f06868" stroke-width="0.55"/>
<circle cx="310.88" cy="242.88" r="1.0" fill="none" stroke="#f06868" stroke-width="0.55"/>
<circle cx="311.09" cy="251.58" r="1.0" fill="none" stroke="#f06868" stroke-width="0.55"/>
<circle cx="311.44" cy="250.08" r="1.0" fill="none" stroke="#f06868" stroke-width="0.55"/>
<circle cx="311.79" cy="250.08" r="1.0" fill="none" stroke="#f06868" stroke-width="0.55"/>
<circle cx="311.97" cy="241.61" r="1.0" fill="none" stroke="#f06868" stroke-width="0.55"/>
<circle cx="312.42" cy="248.21" r="1.0" fill="none" stroke="#f06868" stroke-width="0.55"/>
<circle cx="312.86" cy="253.41" r="1.0" fill="none" stroke="#f06868" stroke-width="0.55"/>
<circle cx="313.1" cy="238.1" r="1.0" fill="none" stroke="#f06868" stroke-width="0.55"/>
<circle cx="313.49" cy="248.25" r="1.0" fill="none" stroke="#f06868" stroke-width="0.55"/>
<circle cx="313.7" cy="244.75" r="1.0" fill="none" stroke="#f06868" stroke-width="0.55"/>
<circle cx="313.89" cy="247.89" r="1.0" fill="none" stroke="#f06868" stroke-width="0.55"/>
<circle cx="314.08" cy="245.92" r="1.0" fill="none" stroke="#f06868" stroke-width="0.55"/>
<circle cx="314.53" cy="241.91" r="1.0" fill="none" stroke="#f06868" stroke-width="0.55"/>
<circle cx="314.84" cy="235.59" r="1.0" fill="none" stroke="#f06868" stroke-width="0.55"/>
<circle cx="315.34" cy="234.7" r="1.0" fill="none" stroke="#f06868" stroke-width="0.55"/>
<circle cx="315.94" cy="238.51" r="1.0" fill="none" stroke="#f06868" stroke-width="0.55"/>
<circle cx="315.85" cy="236.74" r="1.0" fill="none" stroke="#f06868" stroke-width="0.55"/>
<circle cx="316.33" cy="230.18" r="1.0" fill="none" stroke="#f06868" stroke-width="0.55"/>
<circle cx="316.93" cy="230.16" r="1.0" fill="none" stroke="#f06868" stroke-width="0.55"/>
<circle cx="316.97" cy="236.02" r="1.0" fill="none" stroke="#f06868" stroke-width="0.55"/>
<circle cx="317.15" cy="231.2" r="1.0" fill="none" stroke="#f06868" stroke-width="0.55"/>
<circle cx="317.7" cy="228.94" r="1.0" fill="none" stroke="#f06868" stroke-width="0.55"/>
<circle cx="318.16" cy="223.8" r="1.0" fill="none" stroke="#f06868" stroke-width="0.55"/>
<circle cx="318.64" cy="229.23" r="1.0" fill="none" stroke="#f06868" stroke-width="0.55"/>
<circle cx="318.67" cy="223.8" r="1.0" fill="none" stroke="#f06868" stroke-width="0.55"/>
<circle cx="318.9" cy="220.57" r="1.0" fill="none" stroke="#f06868" stroke-width="0.55"/>
<circle cx="319.44" cy="220.09" r="1.0" fill="none" stroke="#f06868" stroke-width="0.55"/>
<circle cx="319.69" cy="216.67" r="1.0" fill="none" stroke="#f06868" stroke-width="0.55"/>
<circle cx="320.32" cy="219.78" r="1.0" fill="none" stroke="#f06868" stroke-width="0.55"/>
<circle cx="320.34" cy="211.9" r="1.0" fill="none" stroke="#f06868" stroke-width="0.55"/>
<circle cx="320.92" cy="214.39" r="1.0" fill="none" stroke="#f06868" stroke-width="0.55"/>
<circle cx="320.75" cy="213.24" r="1.0" fill="none" stroke="#f06868" stroke-width="0.55"/>
<circle cx="321.25" cy="212.96" r="1.0" fill="none" stroke="#f06868" stroke-width="0.55"/>
<circle cx="321.87" cy="213.9" r="1.0" fill="none" stroke="#f06868" stroke-width="0.55"/>
<circle cx="322" cy="207.87" r="1.0" fill="none" stroke="#f06868" stroke-width="0.55"/>
<circle cx="322.08" cy="207.65" r="1.0" fill="none" stroke="#f06868" stroke-width="0.55"/>
<circle cx="322.48" cy="205.3" r="1.0" fill="none" stroke="#f06868" stroke-width="0.55"/>
<circle cx="322.76" cy="208.38" r="1.0" fill="none" stroke="#f06868" stroke-width="0.55"/>
<circle cx="323.44" cy="208.7" r="1.0" fill="none" stroke="#f06868" stroke-width="0.55"/>
<circle cx="323.79" cy="208.82" r="1.0" fill="none" stroke="#f06868" stroke-width="0.55"/>
<circle cx="324.14" cy="203.65" r="1.0" fill="none" stroke="#f06868" stroke-width="0.55"/>
<circle cx="324.18" cy="213.66" r="1.0" fill="none" stroke="#f06868" stroke-width="0.55"/>
<circle cx="324.4" cy="208.3" r="1.0" fill="none" stroke="#f06868" stroke-width="0.55"/>
<circle cx="325.01" cy="206.09" r="1.0" fill="none" stroke="#f06868" stroke-width="0.55"/>
<circle cx="325.22" cy="206.82" r="1.0" fill="none" stroke="#f06868" stroke-width="0.55"/>
<circle cx="325.6" cy="208.28" r="1.0" fill="none" stroke="#f06868" stroke-width="0.55"/>
<circle cx="326.09" cy="207.6" r="1.0" fill="none" stroke="#f06868" stroke-width="0.55"/>
<circle cx="326.51" cy="209.92" r="1.0" fill="none" stroke="#f06868" stroke-width="0.55"/>
<circle cx="326.93" cy="210.67" r="1.0" fill="none" stroke="#f06868" stroke-width="0.55"/>
<circle cx="326.77" cy="203.01" r="1.0" fill="none" stroke="#f06868" stroke-width="0.55"/>
<circle cx="327.13" cy="201.9" r="1.0" fill="none" stroke="#f06868" stroke-width="0.55"/>
<circle cx="327.66" cy="208.42" r="1.0" fill="none" stroke="#f06868" stroke-width="0.55"/>
<circle cx="327.95" cy="211.15" r="1.0" fill="none" stroke="#f06868" stroke-width="0.55"/>
<circle cx="328.4" cy="211.18" r="1.0" fill="none" stroke="#f06868" stroke-width="0.55"/>
<circle cx="328.95" cy="202.4" r="1.0" fill="none" stroke="#f06868" stroke-width="0.55"/>
<circle cx="329" cy="210.17" r="1.0" fill="none" stroke="#f06868" stroke-width="0.55"/>
<circle cx="329.49" cy="207.6" r="1.0" fill="none" stroke="#f06868" stroke-width="0.55"/>
<circle cx="329.88" cy="208.09" r="1.0" fill="none" stroke="#f06868" stroke-width="0.55"/>
<circle cx="329.85" cy="209.47" r="1.0" fill="none" stroke="#f06868" stroke-width="0.55"/>
<circle cx="330.59" cy="210.19" r="1.0" fill="none" stroke="#f06868" stroke-width="0.55"/>
<circle cx="330.71" cy="197.98" r="1.0" fill="none" stroke="#f06868" stroke-width="0.55"/>
<circle cx="331.19" cy="207.43" r="1.0" fill="none" stroke="#f06868" stroke-width="0.55"/>
<circle cx="331.56" cy="209.28" r="1.0" fill="none" stroke="#f06868" stroke-width="0.55"/>
<circle cx="331.59" cy="200.29" r="1.0" fill="none" stroke="#f06868" stroke-width="0.55"/>
<circle cx="332.05" cy="203.51" r="1.0" fill="none" stroke="#f06868" stroke-width="0.55"/>
<circle cx="332.51" cy="204.74" r="1.0" fill="none" stroke="#f06868" stroke-width="0.55"/>
<circle cx="332.87" cy="207.13" r="1.0" fill="none" stroke="#f06868" stroke-width="0.55"/>
<circle cx="332.75" cy="206.33" r="1.0" fill="none" stroke="#f06868" stroke-width="0.55"/>
<circle cx="333.25" cy="205.81" r="1.0" fill="none" stroke="#f06868" stroke-width="0.55"/>
<circle cx="333.85" cy="208.2" r="1.0" fill="none" stroke="#f06868" stroke-width="0.55"/>
<circle cx="334.02" cy="205.28" r="1.0" fill="none" stroke="#f06868" stroke-width="0.55"/>
<circle cx="334.48" cy="205.04" r="1.0" fill="none" stroke="#f06868" stroke-width="0.55"/>
<circle cx="334.95" cy="203.87" r="1.0" fill="none" stroke="#f06868" stroke-width="0.55"/>
<circle cx="335.01" cy="210.37" r="1.0" fill="none" stroke="#f06868" stroke-width="0.55"/>
<circle cx="335.18" cy="205.15" r="1.0" fill="none" stroke="#f06868" stroke-width="0.55"/>
<circle cx="335.69" cy="206.8" r="1.0" fill="none" stroke="#f06868" stroke-width="0.55"/>
<circle cx="336.09" cy="207.63" r="1.0" fill="none" stroke="#f06868" stroke-width="0.55"/>
<circle cx="336.36" cy="201.58" r="1.0" fill="none" stroke="#f06868" stroke-width="0.55"/>
<circle cx="336.56" cy="204.2" r="1.0" fill="none" stroke="#f06868" stroke-width="0.55"/>
<circle cx="336.94" cy="209.67" r="1.0" fill="none" stroke="#f06868" stroke-width="0.55"/>
<circle cx="337.17" cy="202.67" r="1.0" fill="none" stroke="#f06868" stroke-width="0.55"/>
<circle cx="337.89" cy="211.85" r="1.0" fill="none" stroke="#f06868" stroke-width="0.55"/>
<circle cx="338.05" cy="202.71" r="1.0" fill="none" stroke="#f06868" stroke-width="0.55"/>
<circle cx="338.16" cy="207.13" r="1.0" fill="none" stroke="#f06868" stroke-width="0.55"/>
<circle cx="338.74" cy="209.94" r="1.0" fill="none" stroke="#f06868" stroke-width="0.55"/>
<circle cx="338.72" cy="207.21" r="1.0" fill="none" stroke="#f06868" stroke-width="0.55"/>
<circle cx="339.28" cy="202.75" r="1.0" fill="none" stroke="#f06868" stroke-width="0.55"/>
<circle cx="339.85" cy="207.1" r="1.0" fill="none" stroke="#f06868" stroke-width="0.55"/>
<circle cx="340.12" cy="209.14" r="1.0" fill="none" stroke="#f06868" stroke-width="0.55"/>
<circle cx="340.08" cy="208.8" r="1.0" fill="none" stroke="#f06868" stroke-width="0.55"/>
<circle cx="340.95" cy="211.5" r="1.0" fill="none" stroke="#f06868" stroke-width="0.55"/>
<circle cx="341.26" cy="210.83" r="1.0" fill="none" stroke="#f06868" stroke-width="0.55"/>
<circle cx="341.11" cy="211.81" r="1.0" fill="none" stroke="#f06868" stroke-width="0.55"/>
<circle cx="341.63" cy="209.84" r="1.0" fill="none" stroke="#f06868" stroke-width="0.55"/>
<circle cx="341.99" cy="211.78" r="1.0" fill="none" stroke="#f06868" stroke-width="0.55"/>
<circle cx="342.23" cy="220.3" r="1.0" fill="none" stroke="#f06868" stroke-width="0.55"/>
<circle cx="342.92" cy="215.24" r="1.0" fill="none" stroke="#f06868" stroke-width="0.55"/>
<circle cx="342.78" cy="214.47" r="1.0" fill="none" stroke="#f06868" stroke-width="0.55"/>
<circle cx="343.15" cy="218.95" r="1.0" fill="none" stroke="#f06868" stroke-width="0.55"/>
<circle cx="343.5" cy="220.86" r="1.0" fill="none" stroke="#f06868" stroke-width="0.55"/>
<circle cx="343.91" cy="222.46" r="1.0" fill="none" stroke="#f06868" stroke-width="0.55"/>
<circle cx="344.41" cy="224.94" r="1.0" fill="none" stroke="#f06868" stroke-width="0.55"/>
<circle cx="344.44" cy="220.84" r="1.0" fill="none" stroke="#f06868" stroke-width="0.55"/>
<circle cx="345.01" cy="222.84" r="1.0" fill="none" stroke="#f06868" stroke-width="0.55"/>
<circle cx="345.35" cy="226.66" r="1.0" fill="none" stroke="#f06868" stroke-width="0.55"/>
<circle cx="345.63" cy="226.22" r="1.0" fill="none" stroke="#f06868" stroke-width="0.55"/>
<circle cx="346.02" cy="231.07" r="1.0" fill="none" stroke="#f06868" stroke-width="0.55"/>
<circle cx="346.13" cy="228.59" r="1.0" fill="none" stroke="#f06868" stroke-width="0.55"/>
<circle cx="346.75" cy="230.69" r="1.0" fill="none" stroke="#f06868" stroke-width="0.55"/>
<circle cx="347.01" cy="229.51" r="1.0" fill="none" stroke="#f06868" stroke-width="0.55"/>
<circle cx="347.54" cy="232.16" r="1.0" fill="none" stroke="#f06868" stroke-width="0.55"/>
<circle cx="347.5" cy="238.36" r="1.0" fill="none" stroke="#f06868" stroke-width="0.55"/>
<circle cx="348.24" cy="237.06" r="1.0" fill="none" stroke="#f06868" stroke-width="0.55"/>
<circle cx="348.22" cy="242.72" r="1.0" fill="none" stroke="#f06868" stroke-width="0.55"/>
<circle cx="348.49" cy="241.62" r="1.0" fill="none" stroke="#f06868" stroke-width="0.55"/>
<circle cx="349.29" cy="235.26" r="1.0" fill="none" stroke="#f06868" stroke-width="0.55"/>
<circle cx="349.17" cy="240.81" r="1.0" fill="none" stroke="#f06868" stroke-width="0.55"/>
<circle cx="349.8" cy="244.01" r="1.0" fill="none" stroke="#f06868" stroke-width="0.55"/>
<circle cx="350.19" cy="244.45" r="1.0" fill="none" stroke="#f06868" stroke-width="0.55"/>
<circle cx="350.28" cy="244.49" r="1.0" fill="none" stroke="#f06868" stroke-width="0.55"/>
<circle cx="350.6" cy="248.61" r="1.0" fill="none" stroke="#f06868" stroke-width="0.55"/>
<circle cx="351.1" cy="250.39" r="1.0" fill="none" stroke="#f06868" stroke-width="0.55"/>
<circle cx="351.43" cy="247.09" r="1.0" fill="none" stroke="#f06868" stroke-width="0.55"/>
<circle cx="351.9" cy="248.76" r="1.0" fill="none" stroke="#f06868" stroke-width="0.55"/>
<circle cx="351.99" cy="247.6" r="1.0" fill="none" stroke="#f06868" stroke-width="0.55"/>
<circle cx="352.48" cy="249.25" r="1.0" fill="none" stroke="#f06868" stroke-width="0.55"/>
<circle cx="352.47" cy="253.26" r="1.0" fill="none" stroke="#f06868" stroke-width="0.55"/>
<circle cx="352.73" cy="249.05" r="1.0" fill="none" stroke="#f06868" stroke-width="0.55"/>
<circle cx="353.35" cy="248.36" r="1.0" fill="none" stroke="#f06868" stroke-width="0.55"/>
<circle cx="353.66" cy="248.49" r="1.0" fill="none" stroke="#f06868" stroke-width="0.55"/>
<circle cx="353.8" cy="250.41" r="1.0" fill="none" stroke="#f06868" stroke-width="0.55"/>
<circle cx="354.14" cy="249.63" r="1.0" fill="none" stroke="#f06868" stroke-width="0.55"/>
<circle cx="354.91" cy="244.36" r="1.0" fill="none" stroke="#f06868" stroke-width="0.55"/>
<circle cx="354.74" cy="256.22" r="1.0" fill="none" stroke="#f06868" stroke-width="0.55"/>
<circle cx="355.3" cy="242.55" r="1.0" fill="none" stroke="#f06868" stroke-width="0.55"/>
<circle cx="355.81" cy="246.34" r="1.0" fill="none" stroke="#f06868" stroke-width="0.55"/>
<circle cx="356" cy="250.44" r="1.0" fill="none" stroke="#f06868" stroke-width="0.55"/>
<circle cx="356.28" cy="246.17" r="1.0" fill="none" stroke="#f06868" stroke-width="0.55"/>
<circle cx="356.77" cy="249.34" r="1.0" fill="none" stroke="#f06868" stroke-width="0.55"/>
<circle cx="357.19" cy="249.24" r="1.0" fill="none" stroke="#f06868" stroke-width="0.55"/>
<circle cx="357.46" cy="247.67" r="1.0" fill="none" stroke="#f06868" stroke-width="0.55"/>
<circle cx="357.59" cy="246.15" r="1.0" fill="none" stroke="#f06868" stroke-width="0.55"/>
<circle cx="357.99" cy="248.4" r="1.0" fill="none" stroke="#f06868" stroke-width="0.55"/>
<circle cx="358.03" cy="247.37" r="1.0" fill="none" stroke="#f06868" stroke-width="0.55"/>
<circle cx="358.77" cy="245" r="1.0" fill="none" stroke="#f06868" stroke-width="0.55"/>
<circle cx="359.2" cy="252.13" r="1.0" fill="none" stroke="#f06868" stroke-width="0.55"/>
<circle cx="359.37" cy="250.94" r="1.0" fill="none" stroke="#f06868" stroke-width="0.55"/>
<circle cx="359.65" cy="251.06" r="1.0" fill="none" stroke="#f06868" stroke-width="0.55"/>
<circle cx="359.84" cy="243.9" r="1.0" fill="none" stroke="#f06868" stroke-width="0.55"/>
<circle cx="360.56" cy="249.52" r="1.0" fill="none" stroke="#f06868" stroke-width="0.55"/>
<circle cx="360.84" cy="249.14" r="1.0" fill="none" stroke="#f06868" stroke-width="0.55"/>
<circle cx="360.92" cy="253.86" r="1.0" fill="none" stroke="#f06868" stroke-width="0.55"/>
<circle cx="361.43" cy="244.35" r="1.0" fill="none" stroke="#f06868" stroke-width="0.55"/>
<circle cx="361.81" cy="252.49" r="1.0" fill="none" stroke="#f06868" stroke-width="0.55"/>
<circle cx="362.11" cy="248.69" r="1.0" fill="none" stroke="#f06868" stroke-width="0.55"/>
<circle cx="362.05" cy="251.84" r="1.0" fill="none" stroke="#f06868" stroke-width="0.55"/>
<circle cx="362.35" cy="250.7" r="1.0" fill="none" stroke="#f06868" stroke-width="0.55"/>
<circle cx="362.89" cy="246.31" r="1.0" fill="none" stroke="#f06868" stroke-width="0.55"/>
<circle cx="363.15" cy="251.51" r="1.0" fill="none" stroke="#f06868" stroke-width="0.55"/>
<circle cx="363.91" cy="251.99" r="1.0" fill="none" stroke="#f06868" stroke-width="0.55"/>
<circle cx="364.07" cy="250.26" r="1.0" fill="none" stroke="#f06868" stroke-width="0.55"/>
<circle cx="364.35" cy="251.18" r="1.0" fill="none" stroke="#f06868" stroke-width="0.55"/>
<circle cx="364.94" cy="251.71" r="1.0" fill="none" stroke="#f06868" stroke-width="0.55"/>
<circle cx="365.06" cy="249.55" r="1.0" fill="none" stroke="#f06868" stroke-width="0.55"/>
<circle cx="365.6" cy="250.41" r="1.0" fill="none" stroke="#f06868" stroke-width="0.55"/>
<circle cx="365.35" cy="253.53" r="1.0" fill="none" stroke="#f06868" stroke-width="0.55"/>
<circle cx="365.83" cy="252.43" r="1.0" fill="none" stroke="#f06868" stroke-width="0.55"/>
<circle cx="366.25" cy="252.04" r="1.0" fill="none" stroke="#f06868" stroke-width="0.55"/>
<circle cx="366.56" cy="247.2" r="1.0" fill="none" stroke="#f06868" stroke-width="0.55"/>
<circle cx="366.73" cy="248.39" r="1.0" fill="none" stroke="#f06868" stroke-width="0.55"/>
<circle cx="367.34" cy="249" r="1.0" fill="none" stroke="#f06868" stroke-width="0.55"/>
<circle cx="367.64" cy="242.84" r="1.0" fill="none" stroke="#f06868" stroke-width="0.55"/>
<circle cx="368.27" cy="245.39" r="1.0" fill="none" stroke="#f06868" stroke-width="0.55"/>
<circle cx="368.39" cy="249.72" r="1.0" fill="none" stroke="#f06868" stroke-width="0.55"/>
<circle cx="368.7" cy="248.56" r="1.0" fill="none" stroke="#f06868" stroke-width="0.55"/>
<circle cx="369.13" cy="250.02" r="1.0" fill="none" stroke="#f06868" stroke-width="0.55"/>
<circle cx="369.1" cy="242.72" r="1.0" fill="none" stroke="#f06868" stroke-width="0.55"/>
<circle cx="369.62" cy="247.15" r="1.0" fill="none" stroke="#f06868" stroke-width="0.55"/>
<circle cx="370.04" cy="247.36" r="1.0" fill="none" stroke="#f06868" stroke-width="0.55"/>
<circle cx="370.04" cy="246.09" r="1.0" fill="none" stroke="#f06868" stroke-width="0.55"/>
<circle cx="370.65" cy="246.19" r="1.0" fill="none" stroke="#f06868" stroke-width="0.55"/>
<circle cx="371.03" cy="249.96" r="1.0" fill="none" stroke="#f06868" stroke-width="0.55"/>
<circle cx="371.39" cy="250.51" r="1.0" fill="none" stroke="#f06868" stroke-width="0.55"/>
<polyline points="291.4,198.5 291.4,258.7 371.5,258.7" fill="none" stroke="#444" stroke-width="0.7"/>
<line x1="291.4" y1="254.1" x2="292.9" y2="254.1" stroke="#444" stroke-width="0.6"/>
<text transform="translate(288.4,256.4) scale(1,1.08)" font-size="6.4" text-anchor="end" fill="#231f20" font-weight="normal"  stroke="#231f20" stroke-width="0.128">0</text>
<line x1="291.4" y1="228.45" x2="292.9" y2="228.45" stroke="#444" stroke-width="0.6"/>
<text transform="translate(288.4,230.75) scale(1,1.08)" font-size="6.4" text-anchor="end" fill="#231f20" font-weight="normal"  stroke="#231f20" stroke-width="0.128">0.5</text>
<line x1="291.4" y1="202.8" x2="292.9" y2="202.8" stroke="#444" stroke-width="0.6"/>
<text transform="translate(288.4,205.1) scale(1,1.08)" font-size="6.4" text-anchor="end" fill="#231f20" font-weight="normal"  stroke="#231f20" stroke-width="0.128">1</text>
<line x1="291.4" y1="258.7" x2="291.4" y2="257.2" stroke="#444" stroke-width="0.6"/>
<text transform="translate(291.4,268.4) scale(1,1.08)" font-size="6.4" text-anchor="middle" fill="#231f20" font-weight="normal"  stroke="#231f20" stroke-width="0.128">0</text>
<line x1="318.03" y1="258.7" x2="318.03" y2="257.2" stroke="#444" stroke-width="0.6"/>
<text transform="translate(318.03,268.4) scale(1,1.08)" font-size="6.4" text-anchor="middle" fill="#231f20" font-weight="normal"  stroke="#231f20" stroke-width="0.128">0.2</text>
<line x1="344.67" y1="258.7" x2="344.67" y2="257.2" stroke="#444" stroke-width="0.6"/>
<text transform="translate(344.67,268.4) scale(1,1.08)" font-size="6.4" text-anchor="middle" fill="#231f20" font-weight="normal"  stroke="#231f20" stroke-width="0.128">0.4</text>
<line x1="371.3" y1="258.7" x2="371.3" y2="257.2" stroke="#444" stroke-width="0.6"/>
<text transform="translate(371.3,268.4) scale(1,1.08)" font-size="6.4" text-anchor="middle" fill="#231f20" font-weight="normal"  stroke="#231f20" stroke-width="0.128">0.6</text>
<text transform="translate(331.3,276.6) scale(1,1.08)" font-size="6.4" text-anchor="middle" fill="#231f20" font-weight="normal"  stroke="#231f20" stroke-width="0.128">Time (ms)</text>
<text transform="translate(276.3,228.3) rotate(-90) scale(1,1.25)" font-size="5.85" text-anchor="middle" fill="#231f20" stroke="#231f20" stroke-width="0.112">Photoresponse (a.u.)</text>
<text transform="translate(300.4,222.2) scale(1,1.08)" font-size="6.6" fill="#231f20" stroke="#231f20" stroke-width="0.134">&#964;<tspan font-size="4.4" dy="1.2">rising</tspan></text>
<text transform="translate(297,231) scale(1,1.08)" font-size="6.6" text-anchor="start" fill="#231f20" font-weight="normal"  stroke="#231f20" stroke-width="0.134">78&#956;s</text>
<text transform="translate(350.2,222.2) scale(1,1.08)" font-size="6.6" fill="#231f20" stroke="#231f20" stroke-width="0.134">&#964;<tspan font-size="4.4" dy="1.2">decay</tspan></text>
<text transform="translate(349.8,231) scale(1,1.08)" font-size="6.6" text-anchor="start" fill="#231f20" font-weight="normal"  stroke="#231f20" stroke-width="0.134">103&#956;s</text>
<text x="447.5" y="143.6" font-size="15" text-anchor="start" fill="#000" font-weight="bold" >e</text>
<polyline points="490.83,167.6 527.47,169.8 564.12,172 600.76,174 637.41,180.4" fill="none" stroke="#ef3b3b" stroke-width="1.1"/>
<polyline points="490.83,232.2 527.47,233.7 564.12,235.2 600.76,237.3 637.41,241.9" fill="none" stroke="#2f78dd" stroke-width="1.25"/>
<rect x="489.13" y="165.9" width="3.4" height="3.4" fill="#fff" stroke="#ef3b3b" stroke-width="0.8"/>
<rect x="525.77" y="168.1" width="3.4" height="3.4" fill="#fff" stroke="#ef3b3b" stroke-width="0.8"/>
<rect x="562.42" y="170.3" width="3.4" height="3.4" fill="#fff" stroke="#ef3b3b" stroke-width="0.8"/>
<rect x="599.06" y="172.3" width="3.4" height="3.4" fill="#fff" stroke="#ef3b3b" stroke-width="0.8"/>
<rect x="635.71" y="178.7" width="3.4" height="3.4" fill="#fff" stroke="#ef3b3b" stroke-width="0.8"/>
<circle cx="490.83" cy="232.2" r="1.8" fill="#fff" stroke="#2f78dd" stroke-width="0.8"/>
<circle cx="527.47" cy="233.7" r="1.8" fill="#fff" stroke="#2f78dd" stroke-width="0.8"/>
<circle cx="564.12" cy="235.2" r="1.8" fill="#fff" stroke="#2f78dd" stroke-width="0.8"/>
<circle cx="600.76" cy="237.3" r="1.8" fill="#fff" stroke="#2f78dd" stroke-width="0.8"/>
<circle cx="637.41" cy="241.9" r="1.8" fill="#fff" stroke="#2f78dd" stroke-width="0.8"/>
<rect x="482.4" y="145.1" width="164.9" height="138.35" fill="none" stroke="#333" stroke-width="0.9"/>
<line x1="479.8" y1="283.45" x2="482.4" y2="283.45" stroke="#333" stroke-width="0.8"/>
<text transform="translate(475.9,286.75) scale(1,1.08)" font-size="9.2" text-anchor="end" fill="#231f20" font-weight="normal"  stroke="#231f20" stroke-width="0.22">2.5</text>
<line x1="481" y1="260.39" x2="482.4" y2="260.39" stroke="#333" stroke-width="0.8"/>
<line x1="479.8" y1="237.33" x2="482.4" y2="237.33" stroke="#333" stroke-width="0.8"/>
<text transform="translate(475.9,240.63) scale(1,1.08)" font-size="9.2" text-anchor="end" fill="#231f20" font-weight="normal"  stroke="#231f20" stroke-width="0.22">3</text>
<line x1="481" y1="214.27" x2="482.4" y2="214.27" stroke="#333" stroke-width="0.8"/>
<line x1="479.8" y1="191.22" x2="482.4" y2="191.22" stroke="#333" stroke-width="0.8"/>
<text transform="translate(475.9,194.52) scale(1,1.08)" font-size="9.2" text-anchor="end" fill="#231f20" font-weight="normal"  stroke="#231f20" stroke-width="0.22">3.5</text>
<line x1="481" y1="168.16" x2="482.4" y2="168.16" stroke="#333" stroke-width="0.8"/>
<line x1="479.8" y1="145.1" x2="482.4" y2="145.1" stroke="#333" stroke-width="0.8"/>
<text transform="translate(475.9,148.4) scale(1,1.08)" font-size="9.2" text-anchor="end" fill="#231f20" font-weight="normal"  stroke="#231f20" stroke-width="0.22">4</text>
<line x1="647.3" y1="283.45" x2="649.9" y2="283.45" stroke="#333" stroke-width="0.8"/>
<text transform="translate(653.3,286.75) scale(1,1.08)" font-size="9.2" text-anchor="start" fill="#231f20" font-weight="normal"  stroke="#231f20" stroke-width="0.22">2</text>
<line x1="647.3" y1="269.61" x2="648.7" y2="269.61" stroke="#333" stroke-width="0.8"/>
<line x1="647.3" y1="255.78" x2="649.9" y2="255.78" stroke="#333" stroke-width="0.8"/>
<text transform="translate(653.3,259.08) scale(1,1.08)" font-size="9.2" text-anchor="start" fill="#231f20" font-weight="normal"  stroke="#231f20" stroke-width="0.22">2.2</text>
<line x1="647.3" y1="241.95" x2="648.7" y2="241.95" stroke="#333" stroke-width="0.8"/>
<line x1="647.3" y1="228.11" x2="649.9" y2="228.11" stroke="#333" stroke-width="0.8"/>
<text transform="translate(653.3,231.41) scale(1,1.08)" font-size="9.2" text-anchor="start" fill="#231f20" font-weight="normal"  stroke="#231f20" stroke-width="0.22">2.4</text>
<line x1="647.3" y1="214.27" x2="648.7" y2="214.27" stroke="#333" stroke-width="0.8"/>
<line x1="647.3" y1="200.44" x2="649.9" y2="200.44" stroke="#333" stroke-width="0.8"/>
<text transform="translate(653.3,203.74) scale(1,1.08)" font-size="9.2" text-anchor="start" fill="#231f20" font-weight="normal"  stroke="#231f20" stroke-width="0.22">2.6</text>
<line x1="647.3" y1="186.6" x2="648.7" y2="186.6" stroke="#333" stroke-width="0.8"/>
<line x1="647.3" y1="172.77" x2="649.9" y2="172.77" stroke="#333" stroke-width="0.8"/>
<text transform="translate(653.3,176.07) scale(1,1.08)" font-size="9.2" text-anchor="start" fill="#231f20" font-weight="normal"  stroke="#231f20" stroke-width="0.22">2.8</text>
<line x1="647.3" y1="158.94" x2="648.7" y2="158.94" stroke="#333" stroke-width="0.8"/>
<line x1="647.3" y1="145.1" x2="649.9" y2="145.1" stroke="#333" stroke-width="0.8"/>
<text transform="translate(653.3,148.4) scale(1,1.08)" font-size="9.2" text-anchor="start" fill="#231f20" font-weight="normal"  stroke="#231f20" stroke-width="0.22">3</text>
<line x1="482.4" y1="283.45" x2="482.4" y2="284.85" stroke="#333" stroke-width="0.8"/>
<line x1="500.72" y1="283.45" x2="500.72" y2="286.05" stroke="#333" stroke-width="0.8"/>
<text transform="translate(500.72,297.2) scale(1,1.08)" font-size="9.2" text-anchor="middle" fill="#231f20" font-weight="normal"  stroke="#231f20" stroke-width="0.22">800</text>
<line x1="519.04" y1="283.45" x2="519.04" y2="284.85" stroke="#333" stroke-width="0.8"/>
<line x1="537.37" y1="283.45" x2="537.37" y2="286.05" stroke="#333" stroke-width="0.8"/>
<text transform="translate(537.37,297.2) scale(1,1.08)" font-size="9.2" text-anchor="middle" fill="#231f20" font-weight="normal"  stroke="#231f20" stroke-width="0.22">900</text>
<line x1="555.69" y1="283.45" x2="555.69" y2="284.85" stroke="#333" stroke-width="0.8"/>
<line x1="574.01" y1="283.45" x2="574.01" y2="286.05" stroke="#333" stroke-width="0.8"/>
<text transform="translate(574.01,297.2) scale(1,1.08)" font-size="9.2" text-anchor="middle" fill="#231f20" font-weight="normal"  stroke="#231f20" stroke-width="0.22">1000</text>
<line x1="592.33" y1="283.45" x2="592.33" y2="284.85" stroke="#333" stroke-width="0.8"/>
<line x1="610.66" y1="283.45" x2="610.66" y2="286.05" stroke="#333" stroke-width="0.8"/>
<text transform="translate(610.66,297.2) scale(1,1.08)" font-size="9.2" text-anchor="middle" fill="#231f20" font-weight="normal"  stroke="#231f20" stroke-width="0.22">1100</text>
<line x1="628.98" y1="283.45" x2="628.98" y2="284.85" stroke="#333" stroke-width="0.8"/>
<line x1="647.3" y1="283.45" x2="647.3" y2="286.05" stroke="#333" stroke-width="0.8"/>
<text transform="translate(647.3,297.2) scale(1,1.08)" font-size="9.2" text-anchor="middle" fill="#231f20" font-weight="normal"  stroke="#231f20" stroke-width="0.22">1200</text>
<text transform="translate(565.3,311.2) scale(1,1.08)" font-size="9.2" text-anchor="middle" fill="#231f20" font-weight="normal"  stroke="#231f20" stroke-width="0.22">Temperature (K)</text>
<text transform="translate(455.2,213.8) rotate(-90) scale(1,1.08)" font-size="9.2" text-anchor="middle" fill="#231f20" stroke="#231f20" stroke-width="0.22">Responsivity (A/W)</text>
<text transform="translate(682.3,213.8) rotate(-90) scale(1,1.08)" font-size="9.2" text-anchor="middle" fill="#231f20" stroke="#231f20" stroke-width="0.22">Detectivity (&#215; 10<tspan font-size="5.8" dy="-3.4">10</tspan><tspan dy="3.4"> cm&#183;Hz</tspan><tspan font-size="5.8" dy="-3.4">0.5</tspan><tspan dy="3.4">/W)</tspan></text>
<text transform="translate(494.3,271.2) scale(1,1.08)" font-size="7.7" text-anchor="start" fill="#231f20" font-weight="normal"  stroke="#231f20" stroke-width="0.168"><tspan font-style="italic">f</tspan> = 3000 Hz</text>
<line x1="523.8" y1="196.3" x2="543.3" y2="196.3" stroke="#ef3b3b" stroke-width="1.1"/>
<rect x="532.1" y="194.6" width="3.4" height="3.4" fill="#fff" stroke="#ef3b3b" stroke-width="0.8"/>
<text transform="translate(546.6,199) scale(1,1.08)" font-size="7.7" text-anchor="start" fill="#231f20" font-weight="normal"  stroke="#231f20" stroke-width="0.168">Detectivity</text>
<line x1="523.8" y1="207" x2="543.3" y2="207" stroke="#2f78dd" stroke-width="1.3"/>
<circle cx="533.8" cy="207" r="1.8" fill="#fff" stroke="#2f78dd" stroke-width="0.8"/>
<text transform="translate(546.6,209.7) scale(1,1.08)" font-size="7.7" text-anchor="start" fill="#231f20" font-weight="normal"  stroke="#231f20" stroke-width="0.168">Responsivity</text>
</svg></body></html>
